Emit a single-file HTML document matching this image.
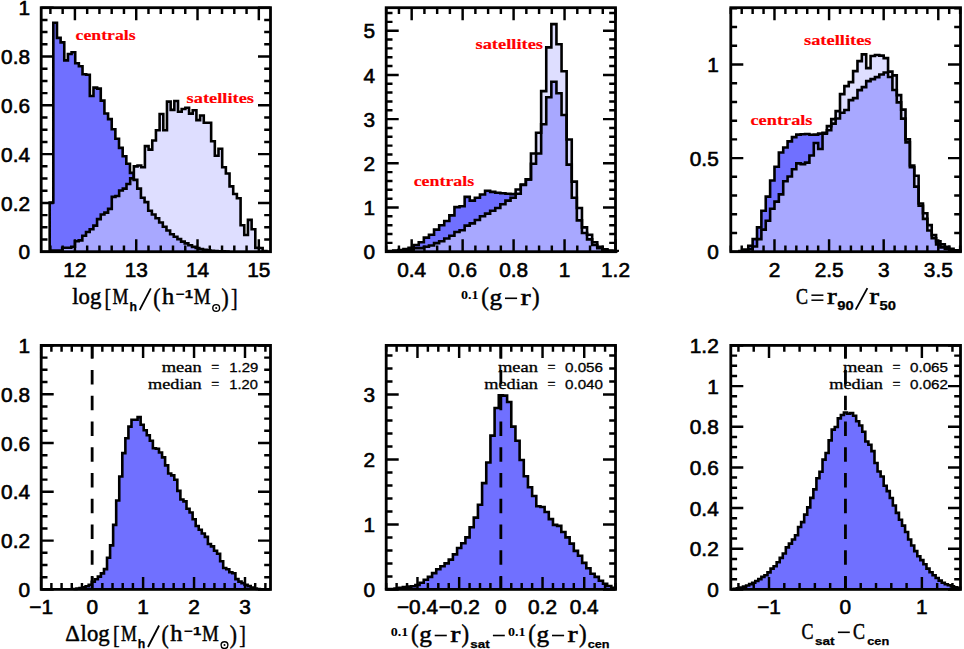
<!DOCTYPE html>
<html><head><meta charset="utf-8"><title>Chart</title>
<style>html,body{margin:0;padding:0;background:#fff}svg{display:block}</style>
</head><body>
<svg width="964" height="649" viewBox="0 0 964 649">
<rect width="964" height="649" fill="#fff"/>
<clipPath id="c1s"><path d="M52.00,251.70 L52.00,250.50 L62.20,250.50 L62.20,247.80 L71.30,247.80 L71.30,246.80 L74.98,246.80 L74.98,241.30 L78.66,241.30 L78.66,240.40 L82.34,240.40 L82.34,235.70 L86.02,235.70 L86.02,232.00 L89.70,232.00 L89.70,229.30 L93.38,229.30 L93.38,225.60 L97.06,225.60 L97.06,219.10 L100.74,219.10 L100.74,214.50 L104.42,214.50 L104.42,212.60 L108.10,212.60 L108.10,208.90 L111.78,208.90 L111.78,196.90 L115.46,196.90 L115.46,196.00 L119.14,196.00 L119.14,190.50 L122.82,190.50 L122.82,188.60 L126.50,188.60 L126.50,184.00 L130.18,184.00 L130.18,178.40 L133.86,178.40 L133.86,166.40 L137.54,166.40 L137.54,165.50 L141.22,165.50 L141.22,167.30 L144.90,167.30 L144.90,146.10 L148.58,146.10 L148.58,149.60 L152.26,149.60 L152.26,140.50 L155.94,140.50 L155.94,130.20 L159.62,130.20 L159.62,114.00 L163.30,114.00 L163.30,130.20 L166.98,130.20 L166.98,101.60 L170.66,101.60 L170.66,109.90 L174.34,109.90 L174.34,101.00 L178.02,101.00 L178.02,111.80 L181.70,111.80 L181.70,109.00 L185.38,109.00 L185.38,107.70 L189.06,107.70 L189.06,113.60 L192.74,113.60 L192.74,110.30 L196.42,110.30 L196.42,120.10 L200.10,120.10 L200.10,115.50 L203.78,115.50 L203.78,122.80 L207.46,122.80 L207.46,122.80 L211.14,122.80 L211.14,141.30 L214.82,141.30 L214.82,155.70 L218.50,155.70 L218.50,148.70 L222.18,148.70 L222.18,167.20 L225.86,167.20 L225.86,173.50 L229.54,173.50 L229.54,186.40 L233.22,186.40 L233.22,194.00 L236.90,194.00 L236.90,198.20 L240.58,198.20 L240.58,225.20 L244.26,225.20 L244.26,235.00 L247.94,235.00 L247.94,219.90 L251.62,219.90 L251.62,229.30 L255.30,229.30 L255.30,247.90 L258.98,247.90 L258.98,248.00 L262.66,248.00 L262.66,251.00 L266.34,251.00 L266.34,251.70Z"/></clipPath>
<path d="M52.00,251.70 L52.00,250.50 L62.20,250.50 L62.20,247.80 L71.30,247.80 L71.30,246.80 L74.98,246.80 L74.98,241.30 L78.66,241.30 L78.66,240.40 L82.34,240.40 L82.34,235.70 L86.02,235.70 L86.02,232.00 L89.70,232.00 L89.70,229.30 L93.38,229.30 L93.38,225.60 L97.06,225.60 L97.06,219.10 L100.74,219.10 L100.74,214.50 L104.42,214.50 L104.42,212.60 L108.10,212.60 L108.10,208.90 L111.78,208.90 L111.78,196.90 L115.46,196.90 L115.46,196.00 L119.14,196.00 L119.14,190.50 L122.82,190.50 L122.82,188.60 L126.50,188.60 L126.50,184.00 L130.18,184.00 L130.18,178.40 L133.86,178.40 L133.86,166.40 L137.54,166.40 L137.54,165.50 L141.22,165.50 L141.22,167.30 L144.90,167.30 L144.90,146.10 L148.58,146.10 L148.58,149.60 L152.26,149.60 L152.26,140.50 L155.94,140.50 L155.94,130.20 L159.62,130.20 L159.62,114.00 L163.30,114.00 L163.30,130.20 L166.98,130.20 L166.98,101.60 L170.66,101.60 L170.66,109.90 L174.34,109.90 L174.34,101.00 L178.02,101.00 L178.02,111.80 L181.70,111.80 L181.70,109.00 L185.38,109.00 L185.38,107.70 L189.06,107.70 L189.06,113.60 L192.74,113.60 L192.74,110.30 L196.42,110.30 L196.42,120.10 L200.10,120.10 L200.10,115.50 L203.78,115.50 L203.78,122.80 L207.46,122.80 L207.46,122.80 L211.14,122.80 L211.14,141.30 L214.82,141.30 L214.82,155.70 L218.50,155.70 L218.50,148.70 L222.18,148.70 L222.18,167.20 L225.86,167.20 L225.86,173.50 L229.54,173.50 L229.54,186.40 L233.22,186.40 L233.22,194.00 L236.90,194.00 L236.90,198.20 L240.58,198.20 L240.58,225.20 L244.26,225.20 L244.26,235.00 L247.94,235.00 L247.94,219.90 L251.62,219.90 L251.62,229.30 L255.30,229.30 L255.30,247.90 L258.98,247.90 L258.98,248.00 L262.66,248.00 L262.66,251.00 L266.34,251.00 L266.34,251.70Z" fill="#dedeff"/>
<path d="M49.67,251.70 L49.67,202.50 L53.32,202.50 L53.32,22.80 L56.97,22.80 L56.97,37.90 L60.62,37.90 L60.62,42.40 L64.27,42.40 L64.27,60.40 L67.92,60.40 L67.92,54.00 L71.57,54.00 L71.57,52.20 L75.22,52.20 L75.22,63.30 L78.87,63.30 L78.87,66.20 L82.52,66.20 L82.52,74.30 L86.17,74.30 L86.17,74.70 L89.82,74.70 L89.82,96.00 L93.47,96.00 L93.47,87.60 L97.12,87.60 L97.12,88.60 L100.77,88.60 L100.77,100.60 L104.42,100.60 L104.42,113.50 L108.07,113.50 L108.07,119.10 L111.72,119.10 L111.72,129.20 L115.37,129.20 L115.37,138.70 L119.02,138.70 L119.02,147.90 L122.67,147.90 L122.67,156.30 L126.32,156.30 L126.32,163.70 L129.97,163.70 L129.97,172.90 L133.62,172.90 L133.62,179.90 L137.27,179.90 L137.27,188.60 L140.92,188.60 L140.92,197.80 L144.57,197.80 L144.57,202.10 L148.22,202.10 L148.22,210.80 L151.87,210.80 L151.87,214.50 L155.52,214.50 L155.52,218.20 L159.17,218.20 L159.17,222.50 L162.82,222.50 L162.82,226.80 L166.47,226.80 L166.47,230.50 L170.12,230.50 L170.12,234.20 L173.77,234.20 L173.77,236.70 L177.42,236.70 L177.42,239.10 L181.07,239.10 L181.07,241.60 L184.72,241.60 L184.72,243.40 L188.37,243.40 L188.37,245.30 L192.02,245.30 L192.02,246.90 L195.67,246.90 L195.67,248.00 L199.32,248.00 L199.32,249.00 L202.97,249.00 L202.97,249.80 L206.62,249.80 L206.62,250.40 L210.27,250.40 L210.27,250.80 L213.92,250.80 L213.92,251.10 L217.57,251.10 L217.57,251.30 L221.22,251.30 L221.22,251.40 L224.87,251.40 L224.87,251.50 L228.52,251.50 L228.52,251.70Z" fill="#7070ff"/>
<path d="M49.67,251.70 L49.67,202.50 L53.32,202.50 L53.32,22.80 L56.97,22.80 L56.97,37.90 L60.62,37.90 L60.62,42.40 L64.27,42.40 L64.27,60.40 L67.92,60.40 L67.92,54.00 L71.57,54.00 L71.57,52.20 L75.22,52.20 L75.22,63.30 L78.87,63.30 L78.87,66.20 L82.52,66.20 L82.52,74.30 L86.17,74.30 L86.17,74.70 L89.82,74.70 L89.82,96.00 L93.47,96.00 L93.47,87.60 L97.12,87.60 L97.12,88.60 L100.77,88.60 L100.77,100.60 L104.42,100.60 L104.42,113.50 L108.07,113.50 L108.07,119.10 L111.72,119.10 L111.72,129.20 L115.37,129.20 L115.37,138.70 L119.02,138.70 L119.02,147.90 L122.67,147.90 L122.67,156.30 L126.32,156.30 L126.32,163.70 L129.97,163.70 L129.97,172.90 L133.62,172.90 L133.62,179.90 L137.27,179.90 L137.27,188.60 L140.92,188.60 L140.92,197.80 L144.57,197.80 L144.57,202.10 L148.22,202.10 L148.22,210.80 L151.87,210.80 L151.87,214.50 L155.52,214.50 L155.52,218.20 L159.17,218.20 L159.17,222.50 L162.82,222.50 L162.82,226.80 L166.47,226.80 L166.47,230.50 L170.12,230.50 L170.12,234.20 L173.77,234.20 L173.77,236.70 L177.42,236.70 L177.42,239.10 L181.07,239.10 L181.07,241.60 L184.72,241.60 L184.72,243.40 L188.37,243.40 L188.37,245.30 L192.02,245.30 L192.02,246.90 L195.67,246.90 L195.67,248.00 L199.32,248.00 L199.32,249.00 L202.97,249.00 L202.97,249.80 L206.62,249.80 L206.62,250.40 L210.27,250.40 L210.27,250.80 L213.92,250.80 L213.92,251.10 L217.57,251.10 L217.57,251.30 L221.22,251.30 L221.22,251.40 L224.87,251.40 L224.87,251.50 L228.52,251.50 L228.52,251.70Z" fill="#a8a8ff" clip-path="url(#c1s)"/>
<path d="M49.67,251.70 L49.67,202.50 L53.32,202.50 L53.32,22.80 L56.97,22.80 L56.97,37.90 L60.62,37.90 L60.62,42.40 L64.27,42.40 L64.27,60.40 L67.92,60.40 L67.92,54.00 L71.57,54.00 L71.57,52.20 L75.22,52.20 L75.22,63.30 L78.87,63.30 L78.87,66.20 L82.52,66.20 L82.52,74.30 L86.17,74.30 L86.17,74.70 L89.82,74.70 L89.82,96.00 L93.47,96.00 L93.47,87.60 L97.12,87.60 L97.12,88.60 L100.77,88.60 L100.77,100.60 L104.42,100.60 L104.42,113.50 L108.07,113.50 L108.07,119.10 L111.72,119.10 L111.72,129.20 L115.37,129.20 L115.37,138.70 L119.02,138.70 L119.02,147.90 L122.67,147.90 L122.67,156.30 L126.32,156.30 L126.32,163.70 L129.97,163.70 L129.97,172.90 L133.62,172.90 L133.62,179.90 L137.27,179.90 L137.27,188.60 L140.92,188.60 L140.92,197.80 L144.57,197.80 L144.57,202.10 L148.22,202.10 L148.22,210.80 L151.87,210.80 L151.87,214.50 L155.52,214.50 L155.52,218.20 L159.17,218.20 L159.17,222.50 L162.82,222.50 L162.82,226.80 L166.47,226.80 L166.47,230.50 L170.12,230.50 L170.12,234.20 L173.77,234.20 L173.77,236.70 L177.42,236.70 L177.42,239.10 L181.07,239.10 L181.07,241.60 L184.72,241.60 L184.72,243.40 L188.37,243.40 L188.37,245.30 L192.02,245.30 L192.02,246.90 L195.67,246.90 L195.67,248.00 L199.32,248.00 L199.32,249.00 L202.97,249.00 L202.97,249.80 L206.62,249.80 L206.62,250.40 L210.27,250.40 L210.27,250.80 L213.92,250.80 L213.92,251.10 L217.57,251.10 L217.57,251.30 L221.22,251.30 L221.22,251.40 L224.87,251.40 L224.87,251.50 L228.52,251.50 L228.52,251.70" fill="none" stroke="#000" stroke-width="2.6"/>
<path d="M52.00,251.70 L52.00,250.50 L62.20,250.50 L62.20,247.80 L71.30,247.80 L71.30,246.80 L74.98,246.80 L74.98,241.30 L78.66,241.30 L78.66,240.40 L82.34,240.40 L82.34,235.70 L86.02,235.70 L86.02,232.00 L89.70,232.00 L89.70,229.30 L93.38,229.30 L93.38,225.60 L97.06,225.60 L97.06,219.10 L100.74,219.10 L100.74,214.50 L104.42,214.50 L104.42,212.60 L108.10,212.60 L108.10,208.90 L111.78,208.90 L111.78,196.90 L115.46,196.90 L115.46,196.00 L119.14,196.00 L119.14,190.50 L122.82,190.50 L122.82,188.60 L126.50,188.60 L126.50,184.00 L130.18,184.00 L130.18,178.40 L133.86,178.40 L133.86,166.40 L137.54,166.40 L137.54,165.50 L141.22,165.50 L141.22,167.30 L144.90,167.30 L144.90,146.10 L148.58,146.10 L148.58,149.60 L152.26,149.60 L152.26,140.50 L155.94,140.50 L155.94,130.20 L159.62,130.20 L159.62,114.00 L163.30,114.00 L163.30,130.20 L166.98,130.20 L166.98,101.60 L170.66,101.60 L170.66,109.90 L174.34,109.90 L174.34,101.00 L178.02,101.00 L178.02,111.80 L181.70,111.80 L181.70,109.00 L185.38,109.00 L185.38,107.70 L189.06,107.70 L189.06,113.60 L192.74,113.60 L192.74,110.30 L196.42,110.30 L196.42,120.10 L200.10,120.10 L200.10,115.50 L203.78,115.50 L203.78,122.80 L207.46,122.80 L207.46,122.80 L211.14,122.80 L211.14,141.30 L214.82,141.30 L214.82,155.70 L218.50,155.70 L218.50,148.70 L222.18,148.70 L222.18,167.20 L225.86,167.20 L225.86,173.50 L229.54,173.50 L229.54,186.40 L233.22,186.40 L233.22,194.00 L236.90,194.00 L236.90,198.20 L240.58,198.20 L240.58,225.20 L244.26,225.20 L244.26,235.00 L247.94,235.00 L247.94,219.90 L251.62,219.90 L251.62,229.30 L255.30,229.30 L255.30,247.90 L258.98,247.90 L258.98,248.00 L262.66,248.00 L262.66,251.00 L266.34,251.00 L266.34,251.70" fill="none" stroke="#000" stroke-width="2.6"/>
<path d="M50.40,251.7 v-6.3 M50.40,7.7 v6.3 M62.66,251.7 v-6.3 M62.66,7.7 v6.3 M74.92,251.7 v-12.5 M74.92,7.7 v12.5 M87.18,251.7 v-6.3 M87.18,7.7 v6.3 M99.44,251.7 v-6.3 M99.44,7.7 v6.3 M111.70,251.7 v-6.3 M111.70,7.7 v6.3 M123.96,251.7 v-6.3 M123.96,7.7 v6.3 M136.22,251.7 v-12.5 M136.22,7.7 v12.5 M148.48,251.7 v-6.3 M148.48,7.7 v6.3 M160.74,251.7 v-6.3 M160.74,7.7 v6.3 M173.00,251.7 v-6.3 M173.00,7.7 v6.3 M185.26,251.7 v-6.3 M185.26,7.7 v6.3 M197.52,251.7 v-12.5 M197.52,7.7 v12.5 M209.78,251.7 v-6.3 M209.78,7.7 v6.3 M222.04,251.7 v-6.3 M222.04,7.7 v6.3 M234.30,251.7 v-6.3 M234.30,7.7 v6.3 M246.56,251.7 v-6.3 M246.56,7.7 v6.3 M258.82,251.7 v-12.5 M258.82,7.7 v12.5" stroke="#000" stroke-width="2.45" fill="none"/>
<path d="M41.2,251.70 h12.5 M270.5,251.70 h-12.5 M41.2,239.50 h6.3 M270.5,239.50 h-6.3 M41.2,227.30 h6.3 M270.5,227.30 h-6.3 M41.2,215.10 h6.3 M270.5,215.10 h-6.3 M41.2,202.90 h12.5 M270.5,202.90 h-12.5 M41.2,190.70 h6.3 M270.5,190.70 h-6.3 M41.2,178.50 h6.3 M270.5,178.50 h-6.3 M41.2,166.30 h6.3 M270.5,166.30 h-6.3 M41.2,154.10 h12.5 M270.5,154.10 h-12.5 M41.2,141.90 h6.3 M270.5,141.90 h-6.3 M41.2,129.70 h6.3 M270.5,129.70 h-6.3 M41.2,117.50 h6.3 M270.5,117.50 h-6.3 M41.2,105.30 h12.5 M270.5,105.30 h-12.5 M41.2,93.10 h6.3 M270.5,93.10 h-6.3 M41.2,80.90 h6.3 M270.5,80.90 h-6.3 M41.2,68.70 h6.3 M270.5,68.70 h-6.3 M41.2,56.50 h12.5 M270.5,56.50 h-12.5 M41.2,44.30 h6.3 M270.5,44.30 h-6.3 M41.2,32.10 h6.3 M270.5,32.10 h-6.3 M41.2,19.90 h6.3 M270.5,19.90 h-6.3 M41.2,7.70 h12.5 M270.5,7.70 h-12.5" stroke="#000" stroke-width="2.45" fill="none"/>
<rect x="41.2" y="7.7" width="229.3" height="244.0" fill="none" stroke="#000" stroke-width="2.8"/>
<g transform="translate(74.9,277.1) scale(1.04,1)"><text x="0" y="0" font-family="Liberation Sans" font-size="20" text-anchor="middle" fill="#000" stroke="#000" stroke-width="0.6">12</text></g>
<g transform="translate(136.2,277.1) scale(1.04,1)"><text x="0" y="0" font-family="Liberation Sans" font-size="20" text-anchor="middle" fill="#000" stroke="#000" stroke-width="0.6">13</text></g>
<g transform="translate(197.5,277.1) scale(1.04,1)"><text x="0" y="0" font-family="Liberation Sans" font-size="20" text-anchor="middle" fill="#000" stroke="#000" stroke-width="0.6">14</text></g>
<g transform="translate(258.8,277.1) scale(1.04,1)"><text x="0" y="0" font-family="Liberation Sans" font-size="20" text-anchor="middle" fill="#000" stroke="#000" stroke-width="0.6">15</text></g>
<g transform="translate(30.0,259.3) scale(1.04,1)"><text x="0" y="0" font-family="Liberation Sans" font-size="20" text-anchor="end" fill="#000" stroke="#000" stroke-width="0.6">0</text></g>
<g transform="translate(30.0,210.5) scale(1.04,1)"><text x="0" y="0" font-family="Liberation Sans" font-size="20" text-anchor="end" fill="#000" stroke="#000" stroke-width="0.6">0.2</text></g>
<g transform="translate(30.0,161.7) scale(1.04,1)"><text x="0" y="0" font-family="Liberation Sans" font-size="20" text-anchor="end" fill="#000" stroke="#000" stroke-width="0.6">0.4</text></g>
<g transform="translate(30.0,112.9) scale(1.04,1)"><text x="0" y="0" font-family="Liberation Sans" font-size="20" text-anchor="end" fill="#000" stroke="#000" stroke-width="0.6">0.6</text></g>
<g transform="translate(30.0,64.1) scale(1.04,1)"><text x="0" y="0" font-family="Liberation Sans" font-size="20" text-anchor="end" fill="#000" stroke="#000" stroke-width="0.6">0.8</text></g>
<g transform="translate(30.0,15.3) scale(1.04,1)"><text x="0" y="0" font-family="Liberation Sans" font-size="20" text-anchor="end" fill="#000" stroke="#000" stroke-width="0.6">1</text></g>
<clipPath id="c2s"><path d="M388.15,251.70 L388.15,251.20 L393.25,251.20 L393.25,251.00 L398.35,251.00 L398.35,250.80 L403.45,250.80 L403.45,250.50 L408.55,250.50 L408.55,250.30 L413.65,250.30 L413.65,248.10 L418.75,248.10 L418.75,248.10 L423.85,248.10 L423.85,246.80 L428.95,246.80 L428.95,245.50 L434.05,245.50 L434.05,243.10 L439.15,243.10 L439.15,241.30 L444.25,241.30 L444.25,238.50 L449.35,238.50 L449.35,235.70 L454.45,235.70 L454.45,232.00 L459.55,232.00 L459.55,230.20 L464.65,230.20 L464.65,225.60 L469.75,225.60 L469.75,223.40 L474.85,223.40 L474.85,220.00 L479.95,220.00 L479.95,216.30 L485.05,216.30 L485.05,213.60 L490.15,213.60 L490.15,210.80 L495.25,210.80 L495.25,208.00 L500.35,208.00 L500.35,204.30 L505.45,204.30 L505.45,200.60 L510.55,200.60 L510.55,197.80 L515.65,197.80 L515.65,189.50 L520.75,189.50 L520.75,184.50 L525.85,184.50 L525.85,179.40 L530.95,179.40 L530.95,153.50 L536.05,153.50 L536.05,132.70 L541.15,132.70 L541.15,91.10 L546.25,91.10 L546.25,47.40 L551.35,47.40 L551.35,24.10 L556.45,24.10 L556.45,44.30 L561.55,44.30 L561.55,71.30 L566.65,71.30 L566.65,139.50 L571.75,139.50 L571.75,181.60 L576.85,181.60 L576.85,208.00 L581.95,208.00 L581.95,227.40 L587.05,227.40 L587.05,234.80 L592.15,234.80 L592.15,242.20 L597.25,242.20 L597.25,246.80 L602.35,246.80 L602.35,249.20 L607.45,249.20 L607.45,250.50 L612.55,250.50 L612.55,251.00 L617.65,251.00 L617.65,251.70Z"/></clipPath>
<path d="M388.15,251.70 L388.15,251.20 L393.25,251.20 L393.25,251.00 L398.35,251.00 L398.35,250.80 L403.45,250.80 L403.45,250.50 L408.55,250.50 L408.55,250.30 L413.65,250.30 L413.65,248.10 L418.75,248.10 L418.75,248.10 L423.85,248.10 L423.85,246.80 L428.95,246.80 L428.95,245.50 L434.05,245.50 L434.05,243.10 L439.15,243.10 L439.15,241.30 L444.25,241.30 L444.25,238.50 L449.35,238.50 L449.35,235.70 L454.45,235.70 L454.45,232.00 L459.55,232.00 L459.55,230.20 L464.65,230.20 L464.65,225.60 L469.75,225.60 L469.75,223.40 L474.85,223.40 L474.85,220.00 L479.95,220.00 L479.95,216.30 L485.05,216.30 L485.05,213.60 L490.15,213.60 L490.15,210.80 L495.25,210.80 L495.25,208.00 L500.35,208.00 L500.35,204.30 L505.45,204.30 L505.45,200.60 L510.55,200.60 L510.55,197.80 L515.65,197.80 L515.65,189.50 L520.75,189.50 L520.75,184.50 L525.85,184.50 L525.85,179.40 L530.95,179.40 L530.95,153.50 L536.05,153.50 L536.05,132.70 L541.15,132.70 L541.15,91.10 L546.25,91.10 L546.25,47.40 L551.35,47.40 L551.35,24.10 L556.45,24.10 L556.45,44.30 L561.55,44.30 L561.55,71.30 L566.65,71.30 L566.65,139.50 L571.75,139.50 L571.75,181.60 L576.85,181.60 L576.85,208.00 L581.95,208.00 L581.95,227.40 L587.05,227.40 L587.05,234.80 L592.15,234.80 L592.15,242.20 L597.25,242.20 L597.25,246.80 L602.35,246.80 L602.35,249.20 L607.45,249.20 L607.45,250.50 L612.55,250.50 L612.55,251.00 L617.65,251.00 L617.65,251.70Z" fill="#dedeff"/>
<path d="M388.15,251.70 L388.15,251.00 L393.25,251.00 L393.25,250.50 L398.35,250.50 L398.35,250.00 L403.45,250.00 L403.45,249.00 L408.55,249.00 L408.55,247.80 L413.65,247.80 L413.65,245.00 L418.75,245.00 L418.75,242.20 L423.85,242.20 L423.85,237.60 L428.95,237.60 L428.95,234.80 L434.05,234.80 L434.05,229.60 L439.15,229.60 L439.15,225.20 L444.25,225.20 L444.25,221.00 L449.35,221.00 L449.35,215.40 L454.45,215.40 L454.45,207.10 L459.55,207.10 L459.55,206.20 L464.65,206.20 L464.65,196.90 L469.75,196.90 L469.75,200.60 L474.85,200.60 L474.85,197.80 L479.95,197.80 L479.95,194.50 L485.05,194.50 L485.05,190.80 L490.15,190.80 L490.15,191.90 L495.25,191.90 L495.25,192.70 L500.35,192.70 L500.35,193.20 L505.45,193.20 L505.45,193.80 L510.55,193.80 L510.55,194.10 L515.65,194.10 L515.65,193.80 L520.75,193.80 L520.75,185.00 L525.85,185.00 L525.85,179.40 L530.95,179.40 L530.95,163.70 L536.05,163.70 L536.05,153.50 L541.15,153.50 L541.15,124.30 L546.25,124.30 L546.25,97.30 L551.35,97.30 L551.35,81.70 L556.45,81.70 L556.45,93.20 L561.55,93.20 L561.55,115.00 L566.65,115.00 L566.65,164.60 L571.75,164.60 L571.75,197.80 L576.85,197.80 L576.85,220.40 L581.95,220.40 L581.95,233.00 L587.05,233.00 L587.05,239.40 L592.15,239.40 L592.15,245.00 L597.25,245.00 L597.25,248.10 L602.35,248.10 L602.35,250.00 L607.45,250.00 L607.45,251.00 L612.55,251.00 L612.55,251.30 L617.65,251.30 L617.65,251.70Z" fill="#7070ff"/>
<path d="M388.15,251.70 L388.15,251.00 L393.25,251.00 L393.25,250.50 L398.35,250.50 L398.35,250.00 L403.45,250.00 L403.45,249.00 L408.55,249.00 L408.55,247.80 L413.65,247.80 L413.65,245.00 L418.75,245.00 L418.75,242.20 L423.85,242.20 L423.85,237.60 L428.95,237.60 L428.95,234.80 L434.05,234.80 L434.05,229.60 L439.15,229.60 L439.15,225.20 L444.25,225.20 L444.25,221.00 L449.35,221.00 L449.35,215.40 L454.45,215.40 L454.45,207.10 L459.55,207.10 L459.55,206.20 L464.65,206.20 L464.65,196.90 L469.75,196.90 L469.75,200.60 L474.85,200.60 L474.85,197.80 L479.95,197.80 L479.95,194.50 L485.05,194.50 L485.05,190.80 L490.15,190.80 L490.15,191.90 L495.25,191.90 L495.25,192.70 L500.35,192.70 L500.35,193.20 L505.45,193.20 L505.45,193.80 L510.55,193.80 L510.55,194.10 L515.65,194.10 L515.65,193.80 L520.75,193.80 L520.75,185.00 L525.85,185.00 L525.85,179.40 L530.95,179.40 L530.95,163.70 L536.05,163.70 L536.05,153.50 L541.15,153.50 L541.15,124.30 L546.25,124.30 L546.25,97.30 L551.35,97.30 L551.35,81.70 L556.45,81.70 L556.45,93.20 L561.55,93.20 L561.55,115.00 L566.65,115.00 L566.65,164.60 L571.75,164.60 L571.75,197.80 L576.85,197.80 L576.85,220.40 L581.95,220.40 L581.95,233.00 L587.05,233.00 L587.05,239.40 L592.15,239.40 L592.15,245.00 L597.25,245.00 L597.25,248.10 L602.35,248.10 L602.35,250.00 L607.45,250.00 L607.45,251.00 L612.55,251.00 L612.55,251.30 L617.65,251.30 L617.65,251.70Z" fill="#a8a8ff" clip-path="url(#c2s)"/>
<path d="M388.15,251.70 L388.15,251.00 L393.25,251.00 L393.25,250.50 L398.35,250.50 L398.35,250.00 L403.45,250.00 L403.45,249.00 L408.55,249.00 L408.55,247.80 L413.65,247.80 L413.65,245.00 L418.75,245.00 L418.75,242.20 L423.85,242.20 L423.85,237.60 L428.95,237.60 L428.95,234.80 L434.05,234.80 L434.05,229.60 L439.15,229.60 L439.15,225.20 L444.25,225.20 L444.25,221.00 L449.35,221.00 L449.35,215.40 L454.45,215.40 L454.45,207.10 L459.55,207.10 L459.55,206.20 L464.65,206.20 L464.65,196.90 L469.75,196.90 L469.75,200.60 L474.85,200.60 L474.85,197.80 L479.95,197.80 L479.95,194.50 L485.05,194.50 L485.05,190.80 L490.15,190.80 L490.15,191.90 L495.25,191.90 L495.25,192.70 L500.35,192.70 L500.35,193.20 L505.45,193.20 L505.45,193.80 L510.55,193.80 L510.55,194.10 L515.65,194.10 L515.65,193.80 L520.75,193.80 L520.75,185.00 L525.85,185.00 L525.85,179.40 L530.95,179.40 L530.95,163.70 L536.05,163.70 L536.05,153.50 L541.15,153.50 L541.15,124.30 L546.25,124.30 L546.25,97.30 L551.35,97.30 L551.35,81.70 L556.45,81.70 L556.45,93.20 L561.55,93.20 L561.55,115.00 L566.65,115.00 L566.65,164.60 L571.75,164.60 L571.75,197.80 L576.85,197.80 L576.85,220.40 L581.95,220.40 L581.95,233.00 L587.05,233.00 L587.05,239.40 L592.15,239.40 L592.15,245.00 L597.25,245.00 L597.25,248.10 L602.35,248.10 L602.35,250.00 L607.45,250.00 L607.45,251.00 L612.55,251.00 L612.55,251.30 L617.65,251.30 L617.65,251.70" fill="none" stroke="#000" stroke-width="2.6"/>
<path d="M388.15,251.70 L388.15,251.20 L393.25,251.20 L393.25,251.00 L398.35,251.00 L398.35,250.80 L403.45,250.80 L403.45,250.50 L408.55,250.50 L408.55,250.30 L413.65,250.30 L413.65,248.10 L418.75,248.10 L418.75,248.10 L423.85,248.10 L423.85,246.80 L428.95,246.80 L428.95,245.50 L434.05,245.50 L434.05,243.10 L439.15,243.10 L439.15,241.30 L444.25,241.30 L444.25,238.50 L449.35,238.50 L449.35,235.70 L454.45,235.70 L454.45,232.00 L459.55,232.00 L459.55,230.20 L464.65,230.20 L464.65,225.60 L469.75,225.60 L469.75,223.40 L474.85,223.40 L474.85,220.00 L479.95,220.00 L479.95,216.30 L485.05,216.30 L485.05,213.60 L490.15,213.60 L490.15,210.80 L495.25,210.80 L495.25,208.00 L500.35,208.00 L500.35,204.30 L505.45,204.30 L505.45,200.60 L510.55,200.60 L510.55,197.80 L515.65,197.80 L515.65,189.50 L520.75,189.50 L520.75,184.50 L525.85,184.50 L525.85,179.40 L530.95,179.40 L530.95,153.50 L536.05,153.50 L536.05,132.70 L541.15,132.70 L541.15,91.10 L546.25,91.10 L546.25,47.40 L551.35,47.40 L551.35,24.10 L556.45,24.10 L556.45,44.30 L561.55,44.30 L561.55,71.30 L566.65,71.30 L566.65,139.50 L571.75,139.50 L571.75,181.60 L576.85,181.60 L576.85,208.00 L581.95,208.00 L581.95,227.40 L587.05,227.40 L587.05,234.80 L592.15,234.80 L592.15,242.20 L597.25,242.20 L597.25,246.80 L602.35,246.80 L602.35,249.20 L607.45,249.20 L607.45,250.50 L612.55,250.50 L612.55,251.00 L617.65,251.00 L617.65,251.70" fill="none" stroke="#000" stroke-width="2.6"/>
<path d="M386.20,251.7 v-6.3 M386.20,7.7 v6.3 M398.94,251.7 v-6.3 M398.94,7.7 v6.3 M411.68,251.7 v-12.5 M411.68,7.7 v12.5 M424.42,251.7 v-6.3 M424.42,7.7 v6.3 M437.16,251.7 v-6.3 M437.16,7.7 v6.3 M449.90,251.7 v-6.3 M449.90,7.7 v6.3 M462.64,251.7 v-12.5 M462.64,7.7 v12.5 M475.38,251.7 v-6.3 M475.38,7.7 v6.3 M488.12,251.7 v-6.3 M488.12,7.7 v6.3 M500.86,251.7 v-6.3 M500.86,7.7 v6.3 M513.60,251.7 v-12.5 M513.60,7.7 v12.5 M526.34,251.7 v-6.3 M526.34,7.7 v6.3 M539.08,251.7 v-6.3 M539.08,7.7 v6.3 M551.82,251.7 v-6.3 M551.82,7.7 v6.3 M564.56,251.7 v-12.5 M564.56,7.7 v12.5 M577.30,251.7 v-6.3 M577.30,7.7 v6.3 M590.04,251.7 v-6.3 M590.04,7.7 v6.3 M602.78,251.7 v-6.3 M602.78,7.7 v6.3 M615.52,251.7 v-12.5 M615.52,7.7 v12.5" stroke="#000" stroke-width="2.45" fill="none"/>
<path d="M386.2,251.70 h12.5 M615.5,251.70 h-12.5 M386.2,242.86 h6.3 M615.5,242.86 h-6.3 M386.2,234.02 h6.3 M615.5,234.02 h-6.3 M386.2,225.18 h6.3 M615.5,225.18 h-6.3 M386.2,216.34 h6.3 M615.5,216.34 h-6.3 M386.2,207.50 h12.5 M615.5,207.50 h-12.5 M386.2,198.66 h6.3 M615.5,198.66 h-6.3 M386.2,189.82 h6.3 M615.5,189.82 h-6.3 M386.2,180.98 h6.3 M615.5,180.98 h-6.3 M386.2,172.14 h6.3 M615.5,172.14 h-6.3 M386.2,163.30 h12.5 M615.5,163.30 h-12.5 M386.2,154.46 h6.3 M615.5,154.46 h-6.3 M386.2,145.62 h6.3 M615.5,145.62 h-6.3 M386.2,136.78 h6.3 M615.5,136.78 h-6.3 M386.2,127.94 h6.3 M615.5,127.94 h-6.3 M386.2,119.10 h12.5 M615.5,119.10 h-12.5 M386.2,110.26 h6.3 M615.5,110.26 h-6.3 M386.2,101.42 h6.3 M615.5,101.42 h-6.3 M386.2,92.58 h6.3 M615.5,92.58 h-6.3 M386.2,83.74 h6.3 M615.5,83.74 h-6.3 M386.2,74.90 h12.5 M615.5,74.90 h-12.5 M386.2,66.06 h6.3 M615.5,66.06 h-6.3 M386.2,57.22 h6.3 M615.5,57.22 h-6.3 M386.2,48.38 h6.3 M615.5,48.38 h-6.3 M386.2,39.54 h6.3 M615.5,39.54 h-6.3 M386.2,30.70 h12.5 M615.5,30.70 h-12.5 M386.2,21.86 h6.3 M615.5,21.86 h-6.3 M386.2,13.02 h6.3 M615.5,13.02 h-6.3" stroke="#000" stroke-width="2.45" fill="none"/>
<rect x="386.2" y="7.7" width="229.3" height="244.0" fill="none" stroke="#000" stroke-width="2.8"/>
<g transform="translate(411.7,277.1) scale(1.04,1)"><text x="0" y="0" font-family="Liberation Sans" font-size="20" text-anchor="middle" fill="#000" stroke="#000" stroke-width="0.6">0.4</text></g>
<g transform="translate(462.6,277.1) scale(1.04,1)"><text x="0" y="0" font-family="Liberation Sans" font-size="20" text-anchor="middle" fill="#000" stroke="#000" stroke-width="0.6">0.6</text></g>
<g transform="translate(513.6,277.1) scale(1.04,1)"><text x="0" y="0" font-family="Liberation Sans" font-size="20" text-anchor="middle" fill="#000" stroke="#000" stroke-width="0.6">0.8</text></g>
<g transform="translate(564.6,277.1) scale(1.04,1)"><text x="0" y="0" font-family="Liberation Sans" font-size="20" text-anchor="middle" fill="#000" stroke="#000" stroke-width="0.6">1</text></g>
<g transform="translate(615.5,277.1) scale(1.04,1)"><text x="0" y="0" font-family="Liberation Sans" font-size="20" text-anchor="middle" fill="#000" stroke="#000" stroke-width="0.6">1.2</text></g>
<g transform="translate(375.0,259.3) scale(1.04,1)"><text x="0" y="0" font-family="Liberation Sans" font-size="20" text-anchor="end" fill="#000" stroke="#000" stroke-width="0.6">0</text></g>
<g transform="translate(375.0,215.1) scale(1.04,1)"><text x="0" y="0" font-family="Liberation Sans" font-size="20" text-anchor="end" fill="#000" stroke="#000" stroke-width="0.6">1</text></g>
<g transform="translate(375.0,170.9) scale(1.04,1)"><text x="0" y="0" font-family="Liberation Sans" font-size="20" text-anchor="end" fill="#000" stroke="#000" stroke-width="0.6">2</text></g>
<g transform="translate(375.0,126.7) scale(1.04,1)"><text x="0" y="0" font-family="Liberation Sans" font-size="20" text-anchor="end" fill="#000" stroke="#000" stroke-width="0.6">3</text></g>
<g transform="translate(375.0,82.5) scale(1.04,1)"><text x="0" y="0" font-family="Liberation Sans" font-size="20" text-anchor="end" fill="#000" stroke="#000" stroke-width="0.6">4</text></g>
<g transform="translate(375.0,38.3) scale(1.04,1)"><text x="0" y="0" font-family="Liberation Sans" font-size="20" text-anchor="end" fill="#000" stroke="#000" stroke-width="0.6">5</text></g>
<clipPath id="c3s"><path d="M739.54,251.70 L739.54,251.30 L743.90,251.30 L743.90,250.80 L748.27,250.80 L748.27,249.20 L752.64,249.20 L752.64,246.50 L757.01,246.50 L757.01,239.10 L761.38,239.10 L761.38,229.60 L765.74,229.60 L765.74,220.70 L770.11,220.70 L770.11,208.80 L774.48,208.80 L774.48,201.60 L778.85,201.60 L778.85,194.40 L783.22,194.40 L783.22,181.30 L787.58,181.30 L787.58,176.50 L791.95,176.50 L791.95,169.30 L796.32,169.30 L796.32,163.40 L800.69,163.40 L800.69,164.10 L805.06,164.10 L805.06,162.60 L809.42,162.60 L809.42,155.50 L813.79,155.50 L813.79,143.00 L818.16,143.00 L818.16,149.00 L822.53,149.00 L822.53,133.80 L826.90,133.80 L826.90,126.10 L831.26,126.10 L831.26,119.10 L835.63,119.10 L835.63,111.10 L840.00,111.10 L840.00,94.10 L844.37,94.10 L844.37,86.10 L848.74,86.10 L848.74,82.10 L853.10,82.10 L853.10,71.10 L857.47,71.10 L857.47,61.10 L861.84,61.10 L861.84,54.40 L866.21,54.40 L866.21,68.10 L870.58,68.10 L870.58,56.00 L874.94,56.00 L874.94,55.00 L879.31,55.00 L879.31,55.60 L883.68,55.60 L883.68,58.10 L888.05,58.10 L888.05,71.60 L892.42,71.60 L892.42,75.40 L896.78,75.40 L896.78,95.10 L901.15,95.10 L901.15,109.60 L905.52,109.60 L905.52,139.40 L909.89,139.40 L909.89,165.50 L914.26,165.50 L914.26,175.80 L918.62,175.80 L918.62,203.50 L922.99,203.50 L922.99,213.20 L927.36,213.20 L927.36,225.10 L931.73,225.10 L931.73,235.10 L936.10,235.10 L936.10,241.30 L940.46,241.30 L940.46,244.40 L944.83,244.40 L944.83,246.70 L949.20,246.70 L949.20,248.70 L953.57,248.70 L953.57,250.20 L957.94,250.20 L957.94,251.00 L960.50,251.00 L960.50,251.70Z"/></clipPath>
<path d="M739.54,251.70 L739.54,251.30 L743.90,251.30 L743.90,250.80 L748.27,250.80 L748.27,249.20 L752.64,249.20 L752.64,246.50 L757.01,246.50 L757.01,239.10 L761.38,239.10 L761.38,229.60 L765.74,229.60 L765.74,220.70 L770.11,220.70 L770.11,208.80 L774.48,208.80 L774.48,201.60 L778.85,201.60 L778.85,194.40 L783.22,194.40 L783.22,181.30 L787.58,181.30 L787.58,176.50 L791.95,176.50 L791.95,169.30 L796.32,169.30 L796.32,163.40 L800.69,163.40 L800.69,164.10 L805.06,164.10 L805.06,162.60 L809.42,162.60 L809.42,155.50 L813.79,155.50 L813.79,143.00 L818.16,143.00 L818.16,149.00 L822.53,149.00 L822.53,133.80 L826.90,133.80 L826.90,126.10 L831.26,126.10 L831.26,119.10 L835.63,119.10 L835.63,111.10 L840.00,111.10 L840.00,94.10 L844.37,94.10 L844.37,86.10 L848.74,86.10 L848.74,82.10 L853.10,82.10 L853.10,71.10 L857.47,71.10 L857.47,61.10 L861.84,61.10 L861.84,54.40 L866.21,54.40 L866.21,68.10 L870.58,68.10 L870.58,56.00 L874.94,56.00 L874.94,55.00 L879.31,55.00 L879.31,55.60 L883.68,55.60 L883.68,58.10 L888.05,58.10 L888.05,71.60 L892.42,71.60 L892.42,75.40 L896.78,75.40 L896.78,95.10 L901.15,95.10 L901.15,109.60 L905.52,109.60 L905.52,139.40 L909.89,139.40 L909.89,165.50 L914.26,165.50 L914.26,175.80 L918.62,175.80 L918.62,203.50 L922.99,203.50 L922.99,213.20 L927.36,213.20 L927.36,225.10 L931.73,225.10 L931.73,235.10 L936.10,235.10 L936.10,241.30 L940.46,241.30 L940.46,244.40 L944.83,244.40 L944.83,246.70 L949.20,246.70 L949.20,248.70 L953.57,248.70 L953.57,250.20 L957.94,250.20 L957.94,251.00 L960.50,251.00 L960.50,251.70Z" fill="#dedeff"/>
<path d="M739.54,251.70 L739.54,251.00 L743.90,251.00 L743.90,249.60 L748.27,249.60 L748.27,245.90 L752.64,245.90 L752.64,239.10 L757.01,239.10 L757.01,227.40 L761.38,227.40 L761.38,210.80 L765.74,210.80 L765.74,196.60 L770.11,196.60 L770.11,180.50 L774.48,180.50 L774.48,166.70 L778.85,166.70 L778.85,152.50 L783.22,152.50 L783.22,147.50 L787.58,147.50 L787.58,141.40 L791.95,141.40 L791.95,137.10 L796.32,137.10 L796.32,134.60 L800.69,134.60 L800.69,134.30 L805.06,134.30 L805.06,134.00 L809.42,134.00 L809.42,134.80 L813.79,134.80 L813.79,134.60 L818.16,134.60 L818.16,133.60 L822.53,133.60 L822.53,132.70 L826.90,132.70 L826.90,130.30 L831.26,130.30 L831.26,123.60 L835.63,123.60 L835.63,118.50 L840.00,118.50 L840.00,112.80 L844.37,112.80 L844.37,110.00 L848.74,110.00 L848.74,100.10 L853.10,100.10 L853.10,98.10 L857.47,98.10 L857.47,90.10 L861.84,90.10 L861.84,87.10 L866.21,87.10 L866.21,81.10 L870.58,81.10 L870.58,79.10 L874.94,79.10 L874.94,77.10 L879.31,77.10 L879.31,74.50 L883.68,74.50 L883.68,72.50 L888.05,72.50 L888.05,77.00 L892.42,77.00 L892.42,90.00 L896.78,90.00 L896.78,102.40 L901.15,102.40 L901.15,118.60 L905.52,118.60 L905.52,142.40 L909.89,142.40 L909.89,167.30 L914.26,167.30 L914.26,186.60 L918.62,186.60 L918.62,205.80 L922.99,205.80 L922.99,218.90 L927.36,218.90 L927.36,230.50 L931.73,230.50 L931.73,238.20 L936.10,238.20 L936.10,244.40 L940.46,244.40 L940.46,247.40 L944.83,247.40 L944.83,249.00 L949.20,249.00 L949.20,250.50 L953.57,250.50 L953.57,251.00 L957.94,251.00 L957.94,251.30 L960.50,251.30 L960.50,251.70Z" fill="#7070ff"/>
<path d="M739.54,251.70 L739.54,251.00 L743.90,251.00 L743.90,249.60 L748.27,249.60 L748.27,245.90 L752.64,245.90 L752.64,239.10 L757.01,239.10 L757.01,227.40 L761.38,227.40 L761.38,210.80 L765.74,210.80 L765.74,196.60 L770.11,196.60 L770.11,180.50 L774.48,180.50 L774.48,166.70 L778.85,166.70 L778.85,152.50 L783.22,152.50 L783.22,147.50 L787.58,147.50 L787.58,141.40 L791.95,141.40 L791.95,137.10 L796.32,137.10 L796.32,134.60 L800.69,134.60 L800.69,134.30 L805.06,134.30 L805.06,134.00 L809.42,134.00 L809.42,134.80 L813.79,134.80 L813.79,134.60 L818.16,134.60 L818.16,133.60 L822.53,133.60 L822.53,132.70 L826.90,132.70 L826.90,130.30 L831.26,130.30 L831.26,123.60 L835.63,123.60 L835.63,118.50 L840.00,118.50 L840.00,112.80 L844.37,112.80 L844.37,110.00 L848.74,110.00 L848.74,100.10 L853.10,100.10 L853.10,98.10 L857.47,98.10 L857.47,90.10 L861.84,90.10 L861.84,87.10 L866.21,87.10 L866.21,81.10 L870.58,81.10 L870.58,79.10 L874.94,79.10 L874.94,77.10 L879.31,77.10 L879.31,74.50 L883.68,74.50 L883.68,72.50 L888.05,72.50 L888.05,77.00 L892.42,77.00 L892.42,90.00 L896.78,90.00 L896.78,102.40 L901.15,102.40 L901.15,118.60 L905.52,118.60 L905.52,142.40 L909.89,142.40 L909.89,167.30 L914.26,167.30 L914.26,186.60 L918.62,186.60 L918.62,205.80 L922.99,205.80 L922.99,218.90 L927.36,218.90 L927.36,230.50 L931.73,230.50 L931.73,238.20 L936.10,238.20 L936.10,244.40 L940.46,244.40 L940.46,247.40 L944.83,247.40 L944.83,249.00 L949.20,249.00 L949.20,250.50 L953.57,250.50 L953.57,251.00 L957.94,251.00 L957.94,251.30 L960.50,251.30 L960.50,251.70Z" fill="#a8a8ff" clip-path="url(#c3s)"/>
<path d="M739.54,251.70 L739.54,251.00 L743.90,251.00 L743.90,249.60 L748.27,249.60 L748.27,245.90 L752.64,245.90 L752.64,239.10 L757.01,239.10 L757.01,227.40 L761.38,227.40 L761.38,210.80 L765.74,210.80 L765.74,196.60 L770.11,196.60 L770.11,180.50 L774.48,180.50 L774.48,166.70 L778.85,166.70 L778.85,152.50 L783.22,152.50 L783.22,147.50 L787.58,147.50 L787.58,141.40 L791.95,141.40 L791.95,137.10 L796.32,137.10 L796.32,134.60 L800.69,134.60 L800.69,134.30 L805.06,134.30 L805.06,134.00 L809.42,134.00 L809.42,134.80 L813.79,134.80 L813.79,134.60 L818.16,134.60 L818.16,133.60 L822.53,133.60 L822.53,132.70 L826.90,132.70 L826.90,130.30 L831.26,130.30 L831.26,123.60 L835.63,123.60 L835.63,118.50 L840.00,118.50 L840.00,112.80 L844.37,112.80 L844.37,110.00 L848.74,110.00 L848.74,100.10 L853.10,100.10 L853.10,98.10 L857.47,98.10 L857.47,90.10 L861.84,90.10 L861.84,87.10 L866.21,87.10 L866.21,81.10 L870.58,81.10 L870.58,79.10 L874.94,79.10 L874.94,77.10 L879.31,77.10 L879.31,74.50 L883.68,74.50 L883.68,72.50 L888.05,72.50 L888.05,77.00 L892.42,77.00 L892.42,90.00 L896.78,90.00 L896.78,102.40 L901.15,102.40 L901.15,118.60 L905.52,118.60 L905.52,142.40 L909.89,142.40 L909.89,167.30 L914.26,167.30 L914.26,186.60 L918.62,186.60 L918.62,205.80 L922.99,205.80 L922.99,218.90 L927.36,218.90 L927.36,230.50 L931.73,230.50 L931.73,238.20 L936.10,238.20 L936.10,244.40 L940.46,244.40 L940.46,247.40 L944.83,247.40 L944.83,249.00 L949.20,249.00 L949.20,250.50 L953.57,250.50 L953.57,251.00 L957.94,251.00 L957.94,251.30 L960.50,251.30 L960.50,251.70" fill="none" stroke="#000" stroke-width="2.6"/>
<path d="M739.54,251.70 L739.54,251.30 L743.90,251.30 L743.90,250.80 L748.27,250.80 L748.27,249.20 L752.64,249.20 L752.64,246.50 L757.01,246.50 L757.01,239.10 L761.38,239.10 L761.38,229.60 L765.74,229.60 L765.74,220.70 L770.11,220.70 L770.11,208.80 L774.48,208.80 L774.48,201.60 L778.85,201.60 L778.85,194.40 L783.22,194.40 L783.22,181.30 L787.58,181.30 L787.58,176.50 L791.95,176.50 L791.95,169.30 L796.32,169.30 L796.32,163.40 L800.69,163.40 L800.69,164.10 L805.06,164.10 L805.06,162.60 L809.42,162.60 L809.42,155.50 L813.79,155.50 L813.79,143.00 L818.16,143.00 L818.16,149.00 L822.53,149.00 L822.53,133.80 L826.90,133.80 L826.90,126.10 L831.26,126.10 L831.26,119.10 L835.63,119.10 L835.63,111.10 L840.00,111.10 L840.00,94.10 L844.37,94.10 L844.37,86.10 L848.74,86.10 L848.74,82.10 L853.10,82.10 L853.10,71.10 L857.47,71.10 L857.47,61.10 L861.84,61.10 L861.84,54.40 L866.21,54.40 L866.21,68.10 L870.58,68.10 L870.58,56.00 L874.94,56.00 L874.94,55.00 L879.31,55.00 L879.31,55.60 L883.68,55.60 L883.68,58.10 L888.05,58.10 L888.05,71.60 L892.42,71.60 L892.42,75.40 L896.78,75.40 L896.78,95.10 L901.15,95.10 L901.15,109.60 L905.52,109.60 L905.52,139.40 L909.89,139.40 L909.89,165.50 L914.26,165.50 L914.26,175.80 L918.62,175.80 L918.62,203.50 L922.99,203.50 L922.99,213.20 L927.36,213.20 L927.36,225.10 L931.73,225.10 L931.73,235.10 L936.10,235.10 L936.10,241.30 L940.46,241.30 L940.46,244.40 L944.83,244.40 L944.83,246.70 L949.20,246.70 L949.20,248.70 L953.57,248.70 L953.57,250.20 L957.94,250.20 L957.94,251.00 L960.50,251.00 L960.50,251.70" fill="none" stroke="#000" stroke-width="2.6"/>
<path d="M730.80,251.7 v-6.3 M730.80,7.7 v6.3 M741.72,251.7 v-6.3 M741.72,7.7 v6.3 M752.64,251.7 v-6.3 M752.64,7.7 v6.3 M763.56,251.7 v-6.3 M763.56,7.7 v6.3 M774.48,251.7 v-12.5 M774.48,7.7 v12.5 M785.40,251.7 v-6.3 M785.40,7.7 v6.3 M796.32,251.7 v-6.3 M796.32,7.7 v6.3 M807.24,251.7 v-6.3 M807.24,7.7 v6.3 M818.16,251.7 v-6.3 M818.16,7.7 v6.3 M829.08,251.7 v-12.5 M829.08,7.7 v12.5 M840.00,251.7 v-6.3 M840.00,7.7 v6.3 M850.92,251.7 v-6.3 M850.92,7.7 v6.3 M861.84,251.7 v-6.3 M861.84,7.7 v6.3 M872.76,251.7 v-6.3 M872.76,7.7 v6.3 M883.68,251.7 v-12.5 M883.68,7.7 v12.5 M894.60,251.7 v-6.3 M894.60,7.7 v6.3 M905.52,251.7 v-6.3 M905.52,7.7 v6.3 M916.44,251.7 v-6.3 M916.44,7.7 v6.3 M927.36,251.7 v-6.3 M927.36,7.7 v6.3 M938.28,251.7 v-12.5 M938.28,7.7 v12.5 M949.20,251.7 v-6.3 M949.20,7.7 v6.3 M960.12,251.7 v-6.3 M960.12,7.7 v6.3" stroke="#000" stroke-width="2.45" fill="none"/>
<path d="M730.8,251.70 h12.5 M960.4999999999999,251.70 h-12.5 M730.8,232.98 h6.3 M960.4999999999999,232.98 h-6.3 M730.8,214.26 h6.3 M960.4999999999999,214.26 h-6.3 M730.8,195.54 h6.3 M960.4999999999999,195.54 h-6.3 M730.8,176.82 h6.3 M960.4999999999999,176.82 h-6.3 M730.8,158.10 h12.5 M960.4999999999999,158.10 h-12.5 M730.8,139.38 h6.3 M960.4999999999999,139.38 h-6.3 M730.8,120.66 h6.3 M960.4999999999999,120.66 h-6.3 M730.8,101.94 h6.3 M960.4999999999999,101.94 h-6.3 M730.8,83.22 h6.3 M960.4999999999999,83.22 h-6.3 M730.8,64.50 h12.5 M960.4999999999999,64.50 h-12.5 M730.8,45.78 h6.3 M960.4999999999999,45.78 h-6.3 M730.8,27.06 h6.3 M960.4999999999999,27.06 h-6.3 M730.8,8.34 h6.3 M960.4999999999999,8.34 h-6.3" stroke="#000" stroke-width="2.45" fill="none"/>
<rect x="730.8" y="7.7" width="229.69999999999993" height="244.0" fill="none" stroke="#000" stroke-width="2.8"/>
<g transform="translate(774.5,277.1) scale(1.04,1)"><text x="0" y="0" font-family="Liberation Sans" font-size="20" text-anchor="middle" fill="#000" stroke="#000" stroke-width="0.6">2</text></g>
<g transform="translate(829.1,277.1) scale(1.04,1)"><text x="0" y="0" font-family="Liberation Sans" font-size="20" text-anchor="middle" fill="#000" stroke="#000" stroke-width="0.6">2.5</text></g>
<g transform="translate(883.7,277.1) scale(1.04,1)"><text x="0" y="0" font-family="Liberation Sans" font-size="20" text-anchor="middle" fill="#000" stroke="#000" stroke-width="0.6">3</text></g>
<g transform="translate(938.3,277.1) scale(1.04,1)"><text x="0" y="0" font-family="Liberation Sans" font-size="20" text-anchor="middle" fill="#000" stroke="#000" stroke-width="0.6">3.5</text></g>
<g transform="translate(718.7,259.3) scale(1.04,1)"><text x="0" y="0" font-family="Liberation Sans" font-size="20" text-anchor="end" fill="#000" stroke="#000" stroke-width="0.6">0</text></g>
<g transform="translate(718.7,165.7) scale(1.04,1)"><text x="0" y="0" font-family="Liberation Sans" font-size="20" text-anchor="end" fill="#000" stroke="#000" stroke-width="0.6">0.5</text></g>
<g transform="translate(718.7,72.1) scale(1.04,1)"><text x="0" y="0" font-family="Liberation Sans" font-size="20" text-anchor="end" fill="#000" stroke="#000" stroke-width="0.6">1</text></g>
<path d="M73.40,589.40 L73.40,589.00 L76.45,589.00 L76.45,588.60 L79.51,588.60 L79.51,588.00 L82.57,588.00 L82.57,587.40 L85.62,587.40 L85.62,586.30 L88.68,586.30 L88.68,584.70 L91.74,584.70 L91.74,581.70 L94.79,581.70 L94.79,579.30 L97.85,579.30 L97.85,576.60 L100.91,576.60 L100.91,573.40 L103.97,573.40 L103.97,569.10 L107.02,569.10 L107.02,557.80 L110.08,557.80 L110.08,545.40 L113.14,545.40 L113.14,524.90 L116.19,524.90 L116.19,500.50 L119.25,500.50 L119.25,476.50 L122.31,476.50 L122.31,453.10 L125.36,453.10 L125.36,438.30 L128.42,438.30 L128.42,426.60 L131.48,426.60 L131.48,419.80 L134.53,419.80 L134.53,419.80 L137.59,419.80 L137.59,417.10 L140.65,417.10 L140.65,424.70 L143.71,424.70 L143.71,430.30 L146.76,430.30 L146.76,435.20 L149.82,435.20 L149.82,440.80 L152.88,440.80 L152.88,448.20 L155.93,448.20 L155.93,448.80 L158.99,448.80 L158.99,452.50 L162.05,452.50 L162.05,457.40 L165.10,457.40 L165.10,465.40 L168.16,465.40 L168.16,473.50 L171.22,473.50 L171.22,475.40 L174.28,475.40 L174.28,479.70 L177.33,479.70 L177.33,490.90 L180.39,490.90 L180.39,499.50 L183.45,499.50 L183.45,501.40 L186.50,501.40 L186.50,508.80 L189.56,508.80 L189.56,512.50 L192.62,512.50 L192.62,519.30 L195.68,519.30 L195.68,526.00 L198.73,526.00 L198.73,529.80 L201.79,529.80 L201.79,533.50 L204.85,533.50 L204.85,536.90 L207.90,536.90 L207.90,544.00 L210.96,544.00 L210.96,546.40 L214.02,546.40 L214.02,550.80 L217.07,550.80 L217.07,553.80 L220.13,553.80 L220.13,561.20 L223.19,561.20 L223.19,568.00 L226.25,568.00 L226.25,569.30 L229.30,569.30 L229.30,572.30 L232.36,572.30 L232.36,573.20 L235.42,573.20 L235.42,579.10 L238.47,579.10 L238.47,581.60 L241.53,581.60 L241.53,583.10 L244.59,583.10 L244.59,584.70 L247.64,584.70 L247.64,586.10 L250.70,586.10 L250.70,587.50 L253.76,587.50 L253.76,588.50 L256.81,588.50 L256.81,589.00 L259.87,589.00 L259.87,589.40Z" fill="#7070ff"/>
<path d="M73.40,589.40 L73.40,589.00 L76.45,589.00 L76.45,588.60 L79.51,588.60 L79.51,588.00 L82.57,588.00 L82.57,587.40 L85.62,587.40 L85.62,586.30 L88.68,586.30 L88.68,584.70 L91.74,584.70 L91.74,581.70 L94.79,581.70 L94.79,579.30 L97.85,579.30 L97.85,576.60 L100.91,576.60 L100.91,573.40 L103.97,573.40 L103.97,569.10 L107.02,569.10 L107.02,557.80 L110.08,557.80 L110.08,545.40 L113.14,545.40 L113.14,524.90 L116.19,524.90 L116.19,500.50 L119.25,500.50 L119.25,476.50 L122.31,476.50 L122.31,453.10 L125.36,453.10 L125.36,438.30 L128.42,438.30 L128.42,426.60 L131.48,426.60 L131.48,419.80 L134.53,419.80 L134.53,419.80 L137.59,419.80 L137.59,417.10 L140.65,417.10 L140.65,424.70 L143.71,424.70 L143.71,430.30 L146.76,430.30 L146.76,435.20 L149.82,435.20 L149.82,440.80 L152.88,440.80 L152.88,448.20 L155.93,448.20 L155.93,448.80 L158.99,448.80 L158.99,452.50 L162.05,452.50 L162.05,457.40 L165.10,457.40 L165.10,465.40 L168.16,465.40 L168.16,473.50 L171.22,473.50 L171.22,475.40 L174.28,475.40 L174.28,479.70 L177.33,479.70 L177.33,490.90 L180.39,490.90 L180.39,499.50 L183.45,499.50 L183.45,501.40 L186.50,501.40 L186.50,508.80 L189.56,508.80 L189.56,512.50 L192.62,512.50 L192.62,519.30 L195.68,519.30 L195.68,526.00 L198.73,526.00 L198.73,529.80 L201.79,529.80 L201.79,533.50 L204.85,533.50 L204.85,536.90 L207.90,536.90 L207.90,544.00 L210.96,544.00 L210.96,546.40 L214.02,546.40 L214.02,550.80 L217.07,550.80 L217.07,553.80 L220.13,553.80 L220.13,561.20 L223.19,561.20 L223.19,568.00 L226.25,568.00 L226.25,569.30 L229.30,569.30 L229.30,572.30 L232.36,572.30 L232.36,573.20 L235.42,573.20 L235.42,579.10 L238.47,579.10 L238.47,581.60 L241.53,581.60 L241.53,583.10 L244.59,583.10 L244.59,584.70 L247.64,584.70 L247.64,586.10 L250.70,586.10 L250.70,587.50 L253.76,587.50 L253.76,588.50 L256.81,588.50 L256.81,589.00 L259.87,589.00 L259.87,589.40" fill="none" stroke="#000" stroke-width="2.6"/>
<path d="M92.15,344.29999999999995 V589.4" stroke="#000" stroke-width="2.8" stroke-dasharray="14.4 11.35" fill="none"/>
<path d="M41.20,589.4 v-12.5 M41.20,345.4 v12.5 M51.39,589.4 v-6.3 M51.39,345.4 v6.3 M61.58,589.4 v-6.3 M61.58,345.4 v6.3 M71.77,589.4 v-6.3 M71.77,345.4 v6.3 M81.96,589.4 v-6.3 M81.96,345.4 v6.3 M92.15,589.4 v-12.5 M92.15,345.4 v12.5 M102.34,589.4 v-6.3 M102.34,345.4 v6.3 M112.53,589.4 v-6.3 M112.53,345.4 v6.3 M122.72,589.4 v-6.3 M122.72,345.4 v6.3 M132.91,589.4 v-6.3 M132.91,345.4 v6.3 M143.10,589.4 v-12.5 M143.10,345.4 v12.5 M153.29,589.4 v-6.3 M153.29,345.4 v6.3 M163.48,589.4 v-6.3 M163.48,345.4 v6.3 M173.67,589.4 v-6.3 M173.67,345.4 v6.3 M183.86,589.4 v-6.3 M183.86,345.4 v6.3 M194.05,589.4 v-12.5 M194.05,345.4 v12.5 M204.24,589.4 v-6.3 M204.24,345.4 v6.3 M214.43,589.4 v-6.3 M214.43,345.4 v6.3 M224.62,589.4 v-6.3 M224.62,345.4 v6.3 M234.81,589.4 v-6.3 M234.81,345.4 v6.3 M245.00,589.4 v-12.5 M245.00,345.4 v12.5 M255.19,589.4 v-6.3 M255.19,345.4 v6.3 M265.38,589.4 v-6.3 M265.38,345.4 v6.3" stroke="#000" stroke-width="2.45" fill="none"/>
<path d="M41.2,589.40 h12.5 M270.5,589.40 h-12.5 M41.2,577.20 h6.3 M270.5,577.20 h-6.3 M41.2,565.00 h6.3 M270.5,565.00 h-6.3 M41.2,552.80 h6.3 M270.5,552.80 h-6.3 M41.2,540.60 h12.5 M270.5,540.60 h-12.5 M41.2,528.40 h6.3 M270.5,528.40 h-6.3 M41.2,516.20 h6.3 M270.5,516.20 h-6.3 M41.2,504.00 h6.3 M270.5,504.00 h-6.3 M41.2,491.80 h12.5 M270.5,491.80 h-12.5 M41.2,479.60 h6.3 M270.5,479.60 h-6.3 M41.2,467.40 h6.3 M270.5,467.40 h-6.3 M41.2,455.20 h6.3 M270.5,455.20 h-6.3 M41.2,443.00 h12.5 M270.5,443.00 h-12.5 M41.2,430.80 h6.3 M270.5,430.80 h-6.3 M41.2,418.60 h6.3 M270.5,418.60 h-6.3 M41.2,406.40 h6.3 M270.5,406.40 h-6.3 M41.2,394.20 h12.5 M270.5,394.20 h-12.5 M41.2,382.00 h6.3 M270.5,382.00 h-6.3 M41.2,369.80 h6.3 M270.5,369.80 h-6.3 M41.2,357.60 h6.3 M270.5,357.60 h-6.3 M41.2,345.40 h12.5 M270.5,345.40 h-12.5" stroke="#000" stroke-width="2.45" fill="none"/>
<rect x="41.2" y="345.4" width="229.3" height="244.0" fill="none" stroke="#000" stroke-width="2.8"/>
<g transform="translate(41.2,614.0) scale(1.04,1)"><text x="0" y="0" font-family="Liberation Sans" font-size="20" text-anchor="middle" fill="#000" stroke="#000" stroke-width="0.6">−1</text></g>
<g transform="translate(92.2,614.0) scale(1.04,1)"><text x="0" y="0" font-family="Liberation Sans" font-size="20" text-anchor="middle" fill="#000" stroke="#000" stroke-width="0.6">0</text></g>
<g transform="translate(143.1,614.0) scale(1.04,1)"><text x="0" y="0" font-family="Liberation Sans" font-size="20" text-anchor="middle" fill="#000" stroke="#000" stroke-width="0.6">1</text></g>
<g transform="translate(194.1,614.0) scale(1.04,1)"><text x="0" y="0" font-family="Liberation Sans" font-size="20" text-anchor="middle" fill="#000" stroke="#000" stroke-width="0.6">2</text></g>
<g transform="translate(245.0,614.0) scale(1.04,1)"><text x="0" y="0" font-family="Liberation Sans" font-size="20" text-anchor="middle" fill="#000" stroke="#000" stroke-width="0.6">3</text></g>
<g transform="translate(30.0,597.0) scale(1.04,1)"><text x="0" y="0" font-family="Liberation Sans" font-size="20" text-anchor="end" fill="#000" stroke="#000" stroke-width="0.6">0</text></g>
<g transform="translate(30.0,548.2) scale(1.04,1)"><text x="0" y="0" font-family="Liberation Sans" font-size="20" text-anchor="end" fill="#000" stroke="#000" stroke-width="0.6">0.2</text></g>
<g transform="translate(30.0,499.4) scale(1.04,1)"><text x="0" y="0" font-family="Liberation Sans" font-size="20" text-anchor="end" fill="#000" stroke="#000" stroke-width="0.6">0.4</text></g>
<g transform="translate(30.0,450.6) scale(1.04,1)"><text x="0" y="0" font-family="Liberation Sans" font-size="20" text-anchor="end" fill="#000" stroke="#000" stroke-width="0.6">0.6</text></g>
<g transform="translate(30.0,401.8) scale(1.04,1)"><text x="0" y="0" font-family="Liberation Sans" font-size="20" text-anchor="end" fill="#000" stroke="#000" stroke-width="0.6">0.8</text></g>
<g transform="translate(30.0,353.0) scale(1.04,1)"><text x="0" y="0" font-family="Liberation Sans" font-size="20" text-anchor="end" fill="#000" stroke="#000" stroke-width="0.6">1</text></g>
<path d="M386.21,589.40 L386.21,589.00 L390.38,589.00 L390.38,589.00 L394.54,589.00 L394.54,588.50 L398.71,588.50 L398.71,587.90 L402.88,587.90 L402.88,587.10 L407.05,587.10 L407.05,586.60 L411.22,586.60 L411.22,586.20 L415.39,586.20 L415.39,585.00 L419.56,585.00 L419.56,582.70 L423.73,582.70 L423.73,579.80 L427.90,579.80 L427.90,576.90 L432.07,576.90 L432.07,573.10 L436.24,573.10 L436.24,569.20 L440.40,569.20 L440.40,566.30 L444.57,566.30 L444.57,563.40 L448.74,563.40 L448.74,559.60 L452.91,559.60 L452.91,554.40 L457.08,554.40 L457.08,548.00 L461.25,548.00 L461.25,543.20 L465.42,543.20 L465.42,537.40 L469.59,537.40 L469.59,527.20 L473.76,527.20 L473.76,517.60 L477.92,517.60 L477.92,504.70 L482.09,504.70 L482.09,483.10 L486.26,483.10 L486.26,462.50 L490.43,462.50 L490.43,435.60 L494.60,435.60 L494.60,408.00 L498.77,408.00 L498.77,395.30 L502.94,395.30 L502.94,395.60 L507.11,395.60 L507.11,402.00 L511.28,402.00 L511.28,426.60 L515.45,426.60 L515.45,440.70 L519.62,440.70 L519.62,460.00 L523.78,460.00 L523.78,476.30 L527.95,476.30 L527.95,487.30 L532.12,487.30 L532.12,496.00 L536.29,496.00 L536.29,506.20 L540.46,506.20 L540.46,507.00 L544.63,507.00 L544.63,512.00 L548.80,512.00 L548.80,519.10 L552.97,519.10 L552.97,524.90 L557.14,524.90 L557.14,525.90 L561.30,525.90 L561.30,532.00 L565.47,532.00 L565.47,537.40 L569.64,537.40 L569.64,543.60 L573.81,543.60 L573.81,550.90 L577.98,550.90 L577.98,555.70 L582.15,555.70 L582.15,562.90 L586.32,562.90 L586.32,568.30 L590.49,568.30 L590.49,573.70 L594.66,573.70 L594.66,576.90 L598.83,576.90 L598.83,580.80 L603.00,580.80 L603.00,583.70 L607.16,583.70 L607.16,586.00 L611.33,586.00 L611.33,587.90 L615.50,587.90 L615.50,589.40Z" fill="#7070ff"/>
<path d="M386.21,589.40 L386.21,589.00 L390.38,589.00 L390.38,589.00 L394.54,589.00 L394.54,588.50 L398.71,588.50 L398.71,587.90 L402.88,587.90 L402.88,587.10 L407.05,587.10 L407.05,586.60 L411.22,586.60 L411.22,586.20 L415.39,586.20 L415.39,585.00 L419.56,585.00 L419.56,582.70 L423.73,582.70 L423.73,579.80 L427.90,579.80 L427.90,576.90 L432.07,576.90 L432.07,573.10 L436.24,573.10 L436.24,569.20 L440.40,569.20 L440.40,566.30 L444.57,566.30 L444.57,563.40 L448.74,563.40 L448.74,559.60 L452.91,559.60 L452.91,554.40 L457.08,554.40 L457.08,548.00 L461.25,548.00 L461.25,543.20 L465.42,543.20 L465.42,537.40 L469.59,537.40 L469.59,527.20 L473.76,527.20 L473.76,517.60 L477.92,517.60 L477.92,504.70 L482.09,504.70 L482.09,483.10 L486.26,483.10 L486.26,462.50 L490.43,462.50 L490.43,435.60 L494.60,435.60 L494.60,408.00 L498.77,408.00 L498.77,395.30 L502.94,395.30 L502.94,395.60 L507.11,395.60 L507.11,402.00 L511.28,402.00 L511.28,426.60 L515.45,426.60 L515.45,440.70 L519.62,440.70 L519.62,460.00 L523.78,460.00 L523.78,476.30 L527.95,476.30 L527.95,487.30 L532.12,487.30 L532.12,496.00 L536.29,496.00 L536.29,506.20 L540.46,506.20 L540.46,507.00 L544.63,507.00 L544.63,512.00 L548.80,512.00 L548.80,519.10 L552.97,519.10 L552.97,524.90 L557.14,524.90 L557.14,525.90 L561.30,525.90 L561.30,532.00 L565.47,532.00 L565.47,537.40 L569.64,537.40 L569.64,543.60 L573.81,543.60 L573.81,550.90 L577.98,550.90 L577.98,555.70 L582.15,555.70 L582.15,562.90 L586.32,562.90 L586.32,568.30 L590.49,568.30 L590.49,573.70 L594.66,573.70 L594.66,576.90 L598.83,576.90 L598.83,580.80 L603.00,580.80 L603.00,583.70 L607.16,583.70 L607.16,586.00 L611.33,586.00 L611.33,587.90 L615.50,587.90 L615.50,589.40" fill="none" stroke="#000" stroke-width="2.6"/>
<path d="M500.85,344.29999999999995 V589.4" stroke="#000" stroke-width="2.8" stroke-dasharray="14.4 11.35" fill="none"/>
<path d="M386.20,589.4 v-6.3 M386.20,345.4 v6.3 M396.62,589.4 v-6.3 M396.62,345.4 v6.3 M407.05,589.4 v-6.3 M407.05,345.4 v6.3 M417.47,589.4 v-12.5 M417.47,345.4 v12.5 M427.89,589.4 v-6.3 M427.89,345.4 v6.3 M438.31,589.4 v-6.3 M438.31,345.4 v6.3 M448.74,589.4 v-6.3 M448.74,345.4 v6.3 M459.16,589.4 v-12.5 M459.16,345.4 v12.5 M469.58,589.4 v-6.3 M469.58,345.4 v6.3 M480.00,589.4 v-6.3 M480.00,345.4 v6.3 M490.42,589.4 v-6.3 M490.42,345.4 v6.3 M500.85,589.4 v-12.5 M500.85,345.4 v12.5 M511.27,589.4 v-6.3 M511.27,345.4 v6.3 M521.69,589.4 v-6.3 M521.69,345.4 v6.3 M532.12,589.4 v-6.3 M532.12,345.4 v6.3 M542.54,589.4 v-12.5 M542.54,345.4 v12.5 M552.96,589.4 v-6.3 M552.96,345.4 v6.3 M563.38,589.4 v-6.3 M563.38,345.4 v6.3 M573.81,589.4 v-6.3 M573.81,345.4 v6.3 M584.23,589.4 v-12.5 M584.23,345.4 v12.5 M594.65,589.4 v-6.3 M594.65,345.4 v6.3 M605.07,589.4 v-6.3 M605.07,345.4 v6.3 M615.50,589.4 v-6.3 M615.50,345.4 v6.3" stroke="#000" stroke-width="2.45" fill="none"/>
<path d="M386.2,589.40 h12.5 M615.5,589.40 h-12.5 M386.2,576.40 h6.3 M615.5,576.40 h-6.3 M386.2,563.40 h6.3 M615.5,563.40 h-6.3 M386.2,550.40 h6.3 M615.5,550.40 h-6.3 M386.2,537.40 h6.3 M615.5,537.40 h-6.3 M386.2,524.40 h12.5 M615.5,524.40 h-12.5 M386.2,511.40 h6.3 M615.5,511.40 h-6.3 M386.2,498.40 h6.3 M615.5,498.40 h-6.3 M386.2,485.40 h6.3 M615.5,485.40 h-6.3 M386.2,472.40 h6.3 M615.5,472.40 h-6.3 M386.2,459.40 h12.5 M615.5,459.40 h-12.5 M386.2,446.40 h6.3 M615.5,446.40 h-6.3 M386.2,433.40 h6.3 M615.5,433.40 h-6.3 M386.2,420.40 h6.3 M615.5,420.40 h-6.3 M386.2,407.40 h6.3 M615.5,407.40 h-6.3 M386.2,394.40 h12.5 M615.5,394.40 h-12.5 M386.2,381.40 h6.3 M615.5,381.40 h-6.3 M386.2,368.40 h6.3 M615.5,368.40 h-6.3 M386.2,355.40 h6.3 M615.5,355.40 h-6.3" stroke="#000" stroke-width="2.45" fill="none"/>
<rect x="386.2" y="345.4" width="229.3" height="244.0" fill="none" stroke="#000" stroke-width="2.8"/>
<g transform="translate(417.5,614.0) scale(1.04,1)"><text x="0" y="0" font-family="Liberation Sans" font-size="20" text-anchor="middle" fill="#000" stroke="#000" stroke-width="0.6">−0.4</text></g>
<g transform="translate(459.2,614.0) scale(1.04,1)"><text x="0" y="0" font-family="Liberation Sans" font-size="20" text-anchor="middle" fill="#000" stroke="#000" stroke-width="0.6">−0.2</text></g>
<g transform="translate(500.8,614.0) scale(1.04,1)"><text x="0" y="0" font-family="Liberation Sans" font-size="20" text-anchor="middle" fill="#000" stroke="#000" stroke-width="0.6">0</text></g>
<g transform="translate(542.5,614.0) scale(1.04,1)"><text x="0" y="0" font-family="Liberation Sans" font-size="20" text-anchor="middle" fill="#000" stroke="#000" stroke-width="0.6">0.2</text></g>
<g transform="translate(584.2,614.0) scale(1.04,1)"><text x="0" y="0" font-family="Liberation Sans" font-size="20" text-anchor="middle" fill="#000" stroke="#000" stroke-width="0.6">0.4</text></g>
<g transform="translate(375.0,597.0) scale(1.04,1)"><text x="0" y="0" font-family="Liberation Sans" font-size="20" text-anchor="end" fill="#000" stroke="#000" stroke-width="0.6">0</text></g>
<g transform="translate(375.0,532.0) scale(1.04,1)"><text x="0" y="0" font-family="Liberation Sans" font-size="20" text-anchor="end" fill="#000" stroke="#000" stroke-width="0.6">1</text></g>
<g transform="translate(375.0,467.0) scale(1.04,1)"><text x="0" y="0" font-family="Liberation Sans" font-size="20" text-anchor="end" fill="#000" stroke="#000" stroke-width="0.6">2</text></g>
<g transform="translate(375.0,402.0) scale(1.04,1)"><text x="0" y="0" font-family="Liberation Sans" font-size="20" text-anchor="end" fill="#000" stroke="#000" stroke-width="0.6">3</text></g>
<path d="M733.86,589.40 L733.86,588.92 L736.92,588.92 L736.92,588.31 L739.98,588.31 L739.98,587.55 L743.03,587.55 L743.03,586.65 L746.09,586.65 L746.09,585.45 L749.15,585.45 L749.15,584.13 L752.21,584.13 L752.21,582.81 L755.26,582.81 L755.26,581.05 L758.32,581.05 L758.32,579.09 L761.38,579.09 L761.38,576.85 L764.43,576.85 L764.43,575.32 L767.49,575.32 L767.49,572.42 L770.55,572.42 L770.55,568.60 L773.61,568.60 L773.61,566.21 L776.66,566.21 L776.66,562.31 L779.72,562.31 L779.72,557.92 L782.78,557.92 L782.78,553.47 L785.83,553.47 L785.83,547.33 L788.89,547.33 L788.89,543.63 L791.95,543.63 L791.95,539.56 L795.01,539.56 L795.01,535.20 L798.06,535.20 L798.06,526.94 L801.12,526.94 L801.12,522.13 L804.18,522.13 L804.18,514.60 L807.24,514.60 L807.24,507.37 L810.29,507.37 L810.29,497.86 L813.35,497.86 L813.35,489.35 L816.41,489.35 L816.41,478.26 L819.46,478.26 L819.46,471.76 L822.52,471.76 L822.52,459.65 L825.58,459.65 L825.58,452.99 L828.64,452.99 L828.64,440.35 L831.69,440.35 L831.69,429.67 L834.75,429.67 L834.75,426.96 L837.81,426.96 L837.81,418.42 L840.86,418.42 L840.86,415.02 L843.92,415.02 L843.92,412.53 L846.98,412.53 L846.98,413.70 L850.04,413.70 L850.04,412.98 L853.09,412.98 L853.09,415.79 L856.15,415.79 L856.15,421.21 L859.21,421.21 L859.21,425.53 L862.26,425.53 L862.26,431.82 L865.32,431.82 L865.32,441.53 L868.38,441.53 L868.38,444.78 L871.44,444.78 L871.44,451.14 L874.49,451.14 L874.49,462.95 L877.55,462.95 L877.55,471.47 L880.61,471.47 L880.61,476.45 L883.67,476.45 L883.67,485.69 L886.72,485.69 L886.72,491.14 L889.78,491.14 L889.78,498.02 L892.84,498.02 L892.84,505.53 L895.89,505.53 L895.89,512.91 L898.95,512.91 L898.95,519.74 L902.01,519.74 L902.01,525.58 L905.07,525.58 L905.07,532.05 L908.12,532.05 L908.12,539.55 L911.18,539.55 L911.18,545.43 L914.24,545.43 L914.24,551.09 L917.29,551.09 L917.29,556.19 L920.35,556.19 L920.35,560.17 L923.41,560.17 L923.41,564.22 L926.47,564.22 L926.47,568.58 L929.52,568.58 L929.52,572.25 L932.58,572.25 L932.58,575.19 L935.64,575.19 L935.64,577.99 L938.69,577.99 L938.69,580.63 L941.75,580.63 L941.75,582.73 L944.81,582.73 L944.81,584.27 L947.87,584.27 L947.87,585.27 L950.92,585.27 L950.92,586.41 L953.98,586.41 L953.98,587.22 L957.04,587.22 L957.04,587.83 L960.10,587.83 L960.10,589.40Z" fill="#7070ff"/>
<path d="M733.86,589.40 L733.86,588.92 L736.92,588.92 L736.92,588.31 L739.98,588.31 L739.98,587.55 L743.03,587.55 L743.03,586.65 L746.09,586.65 L746.09,585.45 L749.15,585.45 L749.15,584.13 L752.21,584.13 L752.21,582.81 L755.26,582.81 L755.26,581.05 L758.32,581.05 L758.32,579.09 L761.38,579.09 L761.38,576.85 L764.43,576.85 L764.43,575.32 L767.49,575.32 L767.49,572.42 L770.55,572.42 L770.55,568.60 L773.61,568.60 L773.61,566.21 L776.66,566.21 L776.66,562.31 L779.72,562.31 L779.72,557.92 L782.78,557.92 L782.78,553.47 L785.83,553.47 L785.83,547.33 L788.89,547.33 L788.89,543.63 L791.95,543.63 L791.95,539.56 L795.01,539.56 L795.01,535.20 L798.06,535.20 L798.06,526.94 L801.12,526.94 L801.12,522.13 L804.18,522.13 L804.18,514.60 L807.24,514.60 L807.24,507.37 L810.29,507.37 L810.29,497.86 L813.35,497.86 L813.35,489.35 L816.41,489.35 L816.41,478.26 L819.46,478.26 L819.46,471.76 L822.52,471.76 L822.52,459.65 L825.58,459.65 L825.58,452.99 L828.64,452.99 L828.64,440.35 L831.69,440.35 L831.69,429.67 L834.75,429.67 L834.75,426.96 L837.81,426.96 L837.81,418.42 L840.86,418.42 L840.86,415.02 L843.92,415.02 L843.92,412.53 L846.98,412.53 L846.98,413.70 L850.04,413.70 L850.04,412.98 L853.09,412.98 L853.09,415.79 L856.15,415.79 L856.15,421.21 L859.21,421.21 L859.21,425.53 L862.26,425.53 L862.26,431.82 L865.32,431.82 L865.32,441.53 L868.38,441.53 L868.38,444.78 L871.44,444.78 L871.44,451.14 L874.49,451.14 L874.49,462.95 L877.55,462.95 L877.55,471.47 L880.61,471.47 L880.61,476.45 L883.67,476.45 L883.67,485.69 L886.72,485.69 L886.72,491.14 L889.78,491.14 L889.78,498.02 L892.84,498.02 L892.84,505.53 L895.89,505.53 L895.89,512.91 L898.95,512.91 L898.95,519.74 L902.01,519.74 L902.01,525.58 L905.07,525.58 L905.07,532.05 L908.12,532.05 L908.12,539.55 L911.18,539.55 L911.18,545.43 L914.24,545.43 L914.24,551.09 L917.29,551.09 L917.29,556.19 L920.35,556.19 L920.35,560.17 L923.41,560.17 L923.41,564.22 L926.47,564.22 L926.47,568.58 L929.52,568.58 L929.52,572.25 L932.58,572.25 L932.58,575.19 L935.64,575.19 L935.64,577.99 L938.69,577.99 L938.69,580.63 L941.75,580.63 L941.75,582.73 L944.81,582.73 L944.81,584.27 L947.87,584.27 L947.87,585.27 L950.92,585.27 L950.92,586.41 L953.98,586.41 L953.98,587.22 L957.04,587.22 L957.04,587.83 L960.10,587.83 L960.10,589.40" fill="none" stroke="#000" stroke-width="2.6"/>
<path d="M845.44,344.29999999999995 V589.4" stroke="#000" stroke-width="2.8" stroke-dasharray="14.4 11.35" fill="none"/>
<path d="M738.44,589.4 v-6.3 M738.44,345.4 v6.3 M753.73,589.4 v-6.3 M753.73,345.4 v6.3 M769.01,589.4 v-12.5 M769.01,345.4 v12.5 M784.30,589.4 v-6.3 M784.30,345.4 v6.3 M799.59,589.4 v-6.3 M799.59,345.4 v6.3 M814.87,589.4 v-6.3 M814.87,345.4 v6.3 M830.16,589.4 v-6.3 M830.16,345.4 v6.3 M845.44,589.4 v-12.5 M845.44,345.4 v12.5 M860.73,589.4 v-6.3 M860.73,345.4 v6.3 M876.02,589.4 v-6.3 M876.02,345.4 v6.3 M891.30,589.4 v-6.3 M891.30,345.4 v6.3 M906.59,589.4 v-6.3 M906.59,345.4 v6.3 M921.88,589.4 v-12.5 M921.88,345.4 v12.5 M937.16,589.4 v-6.3 M937.16,345.4 v6.3 M952.45,589.4 v-6.3 M952.45,345.4 v6.3" stroke="#000" stroke-width="2.45" fill="none"/>
<path d="M730.8,589.40 h12.5 M960.4999999999999,589.40 h-12.5 M730.8,579.24 h6.3 M960.4999999999999,579.24 h-6.3 M730.8,569.07 h6.3 M960.4999999999999,569.07 h-6.3 M730.8,558.90 h6.3 M960.4999999999999,558.90 h-6.3 M730.8,548.74 h12.5 M960.4999999999999,548.74 h-12.5 M730.8,538.57 h6.3 M960.4999999999999,538.57 h-6.3 M730.8,528.41 h6.3 M960.4999999999999,528.41 h-6.3 M730.8,518.25 h6.3 M960.4999999999999,518.25 h-6.3 M730.8,508.08 h12.5 M960.4999999999999,508.08 h-12.5 M730.8,497.91 h6.3 M960.4999999999999,497.91 h-6.3 M730.8,487.75 h6.3 M960.4999999999999,487.75 h-6.3 M730.8,477.58 h6.3 M960.4999999999999,477.58 h-6.3 M730.8,467.42 h12.5 M960.4999999999999,467.42 h-12.5 M730.8,457.25 h6.3 M960.4999999999999,457.25 h-6.3 M730.8,447.09 h6.3 M960.4999999999999,447.09 h-6.3 M730.8,436.92 h6.3 M960.4999999999999,436.92 h-6.3 M730.8,426.76 h12.5 M960.4999999999999,426.76 h-12.5 M730.8,416.59 h6.3 M960.4999999999999,416.59 h-6.3 M730.8,406.43 h6.3 M960.4999999999999,406.43 h-6.3 M730.8,396.26 h6.3 M960.4999999999999,396.26 h-6.3 M730.8,386.10 h12.5 M960.4999999999999,386.10 h-12.5 M730.8,375.93 h6.3 M960.4999999999999,375.93 h-6.3 M730.8,365.77 h6.3 M960.4999999999999,365.77 h-6.3 M730.8,355.60 h6.3 M960.4999999999999,355.60 h-6.3 M730.8,345.44 h12.5 M960.4999999999999,345.44 h-12.5" stroke="#000" stroke-width="2.45" fill="none"/>
<rect x="730.8" y="345.4" width="229.69999999999993" height="244.0" fill="none" stroke="#000" stroke-width="2.8"/>
<g transform="translate(769.0,614.0) scale(1.04,1)"><text x="0" y="0" font-family="Liberation Sans" font-size="20" text-anchor="middle" fill="#000" stroke="#000" stroke-width="0.6">−1</text></g>
<g transform="translate(845.4,614.0) scale(1.04,1)"><text x="0" y="0" font-family="Liberation Sans" font-size="20" text-anchor="middle" fill="#000" stroke="#000" stroke-width="0.6">0</text></g>
<g transform="translate(921.9,614.0) scale(1.04,1)"><text x="0" y="0" font-family="Liberation Sans" font-size="20" text-anchor="middle" fill="#000" stroke="#000" stroke-width="0.6">1</text></g>
<g transform="translate(718.7,597.0) scale(1.04,1)"><text x="0" y="0" font-family="Liberation Sans" font-size="20" text-anchor="end" fill="#000" stroke="#000" stroke-width="0.6">0</text></g>
<g transform="translate(718.7,556.3) scale(1.04,1)"><text x="0" y="0" font-family="Liberation Sans" font-size="20" text-anchor="end" fill="#000" stroke="#000" stroke-width="0.6">0.2</text></g>
<g transform="translate(718.7,515.7) scale(1.04,1)"><text x="0" y="0" font-family="Liberation Sans" font-size="20" text-anchor="end" fill="#000" stroke="#000" stroke-width="0.6">0.4</text></g>
<g transform="translate(718.7,475.0) scale(1.04,1)"><text x="0" y="0" font-family="Liberation Sans" font-size="20" text-anchor="end" fill="#000" stroke="#000" stroke-width="0.6">0.6</text></g>
<g transform="translate(718.7,434.4) scale(1.04,1)"><text x="0" y="0" font-family="Liberation Sans" font-size="20" text-anchor="end" fill="#000" stroke="#000" stroke-width="0.6">0.8</text></g>
<g transform="translate(718.7,393.7) scale(1.04,1)"><text x="0" y="0" font-family="Liberation Sans" font-size="20" text-anchor="end" fill="#000" stroke="#000" stroke-width="0.6">1</text></g>
<g transform="translate(718.7,353.0) scale(1.04,1)"><text x="0" y="0" font-family="Liberation Sans" font-size="20" text-anchor="end" fill="#000" stroke="#000" stroke-width="0.6">1.2</text></g>
<text x="75.6" y="40.3" font-family="Liberation Serif" font-size="14.3" font-weight="bold" text-anchor="start" fill="#ff0000" textLength="60" lengthAdjust="spacingAndGlyphs" stroke="#ff0000" stroke-width="0.15">centrals</text>
<text x="186.6" y="103.4" font-family="Liberation Serif" font-size="14.3" font-weight="bold" text-anchor="start" fill="#ff0000" textLength="67.4" lengthAdjust="spacingAndGlyphs" stroke="#ff0000" stroke-width="0.15">satellites</text>
<text x="413.7" y="185.8" font-family="Liberation Serif" font-size="14.3" font-weight="bold" text-anchor="start" fill="#ff0000" textLength="60.5" lengthAdjust="spacingAndGlyphs" stroke="#ff0000" stroke-width="0.15">centrals</text>
<text x="475.5" y="48.5" font-family="Liberation Serif" font-size="14.3" font-weight="bold" text-anchor="start" fill="#ff0000" textLength="67.5" lengthAdjust="spacingAndGlyphs" stroke="#ff0000" stroke-width="0.15">satellites</text>
<text x="750.5" y="125" font-family="Liberation Serif" font-size="14.3" font-weight="bold" text-anchor="start" fill="#ff0000" textLength="62" lengthAdjust="spacingAndGlyphs" stroke="#ff0000" stroke-width="0.15">centrals</text>
<text x="804" y="45" font-family="Liberation Serif" font-size="14.3" font-weight="bold" text-anchor="start" fill="#ff0000" textLength="67.5" lengthAdjust="spacingAndGlyphs" stroke="#ff0000" stroke-width="0.15">satellites</text>
<text x="201.7" y="372.1" font-family="Liberation Serif" font-size="14.5" font-weight="normal" text-anchor="end" fill="#000" textLength="40" lengthAdjust="spacingAndGlyphs" stroke="#000" stroke-width="0.3">mean</text>
<text x="211.2" y="372.1" font-family="Liberation Serif" font-size="14.5" font-weight="normal" text-anchor="start" fill="#000" textLength="8" lengthAdjust="spacingAndGlyphs" stroke="#000" stroke-width="0.3">=</text>
<text x="229.3" y="372.1" font-family="Liberation Sans" font-size="13.4" font-weight="normal" text-anchor="start" fill="#000" textLength="29" lengthAdjust="spacingAndGlyphs" stroke="#000" stroke-width="0.3">1.29</text>
<text x="201.7" y="389.2" font-family="Liberation Serif" font-size="14.5" font-weight="normal" text-anchor="end" fill="#000" textLength="53.7" lengthAdjust="spacingAndGlyphs" stroke="#000" stroke-width="0.3">median</text>
<text x="211.2" y="389.2" font-family="Liberation Serif" font-size="14.5" font-weight="normal" text-anchor="start" fill="#000" textLength="8" lengthAdjust="spacingAndGlyphs" stroke="#000" stroke-width="0.3">=</text>
<text x="229.3" y="389.2" font-family="Liberation Sans" font-size="13.4" font-weight="normal" text-anchor="start" fill="#000" textLength="28.5" lengthAdjust="spacingAndGlyphs" stroke="#000" stroke-width="0.3">1.20</text>
<text x="538" y="372.1" font-family="Liberation Serif" font-size="14.5" font-weight="normal" text-anchor="end" fill="#000" textLength="40" lengthAdjust="spacingAndGlyphs" stroke="#000" stroke-width="0.3">mean</text>
<text x="547.5" y="372.1" font-family="Liberation Serif" font-size="14.5" font-weight="normal" text-anchor="start" fill="#000" textLength="8" lengthAdjust="spacingAndGlyphs" stroke="#000" stroke-width="0.3">=</text>
<text x="565" y="372.1" font-family="Liberation Sans" font-size="13.4" font-weight="normal" text-anchor="start" fill="#000" textLength="38" lengthAdjust="spacingAndGlyphs" stroke="#000" stroke-width="0.3">0.056</text>
<text x="538" y="389.2" font-family="Liberation Serif" font-size="14.5" font-weight="normal" text-anchor="end" fill="#000" textLength="53.7" lengthAdjust="spacingAndGlyphs" stroke="#000" stroke-width="0.3">median</text>
<text x="547.5" y="389.2" font-family="Liberation Serif" font-size="14.5" font-weight="normal" text-anchor="start" fill="#000" textLength="8" lengthAdjust="spacingAndGlyphs" stroke="#000" stroke-width="0.3">=</text>
<text x="565" y="389.2" font-family="Liberation Sans" font-size="13.4" font-weight="normal" text-anchor="start" fill="#000" textLength="38" lengthAdjust="spacingAndGlyphs" stroke="#000" stroke-width="0.3">0.040</text>
<text x="883" y="372.1" font-family="Liberation Serif" font-size="14.5" font-weight="normal" text-anchor="end" fill="#000" textLength="40" lengthAdjust="spacingAndGlyphs" stroke="#000" stroke-width="0.3">mean</text>
<text x="892.5" y="372.1" font-family="Liberation Serif" font-size="14.5" font-weight="normal" text-anchor="start" fill="#000" textLength="8" lengthAdjust="spacingAndGlyphs" stroke="#000" stroke-width="0.3">=</text>
<text x="910" y="372.1" font-family="Liberation Sans" font-size="13.4" font-weight="normal" text-anchor="start" fill="#000" textLength="38" lengthAdjust="spacingAndGlyphs" stroke="#000" stroke-width="0.3">0.065</text>
<text x="883" y="389.2" font-family="Liberation Serif" font-size="14.5" font-weight="normal" text-anchor="end" fill="#000" textLength="53.7" lengthAdjust="spacingAndGlyphs" stroke="#000" stroke-width="0.3">median</text>
<text x="892.5" y="389.2" font-family="Liberation Serif" font-size="14.5" font-weight="normal" text-anchor="start" fill="#000" textLength="8" lengthAdjust="spacingAndGlyphs" stroke="#000" stroke-width="0.3">=</text>
<text x="910" y="389.2" font-family="Liberation Sans" font-size="13.4" font-weight="normal" text-anchor="start" fill="#000" textLength="38" lengthAdjust="spacingAndGlyphs" stroke="#000" stroke-width="0.3">0.062</text>
<text x="72.3" y="304.3" font-family="Liberation Serif" font-size="22.5" font-weight="normal" text-anchor="start" fill="#000" textLength="29" lengthAdjust="spacingAndGlyphs" stroke="#000" stroke-width="0.5">log</text>
<text x="104.6" y="305.90000000000003" font-family="Liberation Serif" font-size="26" font-weight="normal" text-anchor="start" fill="#000" textLength="6.6" lengthAdjust="spacingAndGlyphs" stroke="#000" stroke-width="0.5">[</text>
<text x="112.6" y="304.3" font-family="Liberation Serif" font-size="22.5" font-weight="normal" text-anchor="start" fill="#000" textLength="15.9" lengthAdjust="spacingAndGlyphs" stroke="#000" stroke-width="0.5">M</text>
<text x="129.4" y="310.8" font-family="Liberation Sans" font-size="12.5" font-weight="bold" text-anchor="start" fill="#000" textLength="7.5" lengthAdjust="spacingAndGlyphs" stroke="#000" stroke-width="0.25">h</text>
<path d="M139.7,309.9 L150.8,288.4" stroke="#000" stroke-width="1.8" fill="none"/>
<text x="153.2" y="305.6" font-family="Liberation Serif" font-size="25.5" font-weight="normal" text-anchor="start" fill="#000" textLength="7.2" lengthAdjust="spacingAndGlyphs" stroke="#000" stroke-width="0.5">(</text>
<text x="162" y="304.3" font-family="Liberation Serif" font-size="22.5" font-weight="normal" text-anchor="start" fill="#000" textLength="12.2" lengthAdjust="spacingAndGlyphs" stroke="#000" stroke-width="0.5">h</text>
<text x="176" y="298.3" font-family="Liberation Sans" font-size="11.5" font-weight="bold" text-anchor="start" fill="#000" textLength="17" lengthAdjust="spacingAndGlyphs" stroke="#000" stroke-width="0.25">−1</text>
<text x="193.8" y="304.3" font-family="Liberation Serif" font-size="22.5" font-weight="normal" text-anchor="start" fill="#000" textLength="16.8" lengthAdjust="spacingAndGlyphs" stroke="#000" stroke-width="0.5">M</text>
<circle cx="216.2" cy="308.0" r="3.4" fill="none" stroke="#000" stroke-width="1.4"/><circle cx="216.2" cy="308.0" r="1" fill="#000"/>
<text x="221.5" y="305.6" font-family="Liberation Serif" font-size="25.5" font-weight="normal" text-anchor="start" fill="#000" textLength="7.2" lengthAdjust="spacingAndGlyphs" stroke="#000" stroke-width="0.5">)</text>
<text x="230.9" y="305.90000000000003" font-family="Liberation Serif" font-size="26" font-weight="normal" text-anchor="start" fill="#000" textLength="6.6" lengthAdjust="spacingAndGlyphs" stroke="#000" stroke-width="0.5">]</text>
<text x="65.3" y="641.4" font-family="Liberation Serif" font-size="22.5" font-weight="normal" text-anchor="start" fill="#000" textLength="14.6" lengthAdjust="spacingAndGlyphs" stroke="#000" stroke-width="0.5">Δ</text>
<text x="80.6" y="641.4" font-family="Liberation Serif" font-size="22.5" font-weight="normal" text-anchor="start" fill="#000" textLength="29" lengthAdjust="spacingAndGlyphs" stroke="#000" stroke-width="0.5">log</text>
<text x="112.89999999999999" y="643.0" font-family="Liberation Serif" font-size="26" font-weight="normal" text-anchor="start" fill="#000" textLength="6.6" lengthAdjust="spacingAndGlyphs" stroke="#000" stroke-width="0.5">[</text>
<text x="120.89999999999999" y="641.4" font-family="Liberation Serif" font-size="22.5" font-weight="normal" text-anchor="start" fill="#000" textLength="15.9" lengthAdjust="spacingAndGlyphs" stroke="#000" stroke-width="0.5">M</text>
<text x="137.70000000000002" y="647.9" font-family="Liberation Sans" font-size="12.5" font-weight="bold" text-anchor="start" fill="#000" textLength="7.5" lengthAdjust="spacingAndGlyphs" stroke="#000" stroke-width="0.25">h</text>
<path d="M148.0,647.0 L159.1,625.5" stroke="#000" stroke-width="1.8" fill="none"/>
<text x="161.5" y="642.6999999999999" font-family="Liberation Serif" font-size="25.5" font-weight="normal" text-anchor="start" fill="#000" textLength="7.2" lengthAdjust="spacingAndGlyphs" stroke="#000" stroke-width="0.5">(</text>
<text x="170.3" y="641.4" font-family="Liberation Serif" font-size="22.5" font-weight="normal" text-anchor="start" fill="#000" textLength="12.2" lengthAdjust="spacingAndGlyphs" stroke="#000" stroke-width="0.5">h</text>
<text x="184.3" y="635.4" font-family="Liberation Sans" font-size="11.5" font-weight="bold" text-anchor="start" fill="#000" textLength="17" lengthAdjust="spacingAndGlyphs" stroke="#000" stroke-width="0.25">−1</text>
<text x="202.10000000000002" y="641.4" font-family="Liberation Serif" font-size="22.5" font-weight="normal" text-anchor="start" fill="#000" textLength="16.8" lengthAdjust="spacingAndGlyphs" stroke="#000" stroke-width="0.5">M</text>
<circle cx="224.5" cy="645.1" r="3.4" fill="none" stroke="#000" stroke-width="1.4"/><circle cx="224.5" cy="645.1" r="1" fill="#000"/>
<text x="229.8" y="642.6999999999999" font-family="Liberation Serif" font-size="25.5" font-weight="normal" text-anchor="start" fill="#000" textLength="7.2" lengthAdjust="spacingAndGlyphs" stroke="#000" stroke-width="0.5">)</text>
<text x="239.20000000000002" y="643.0" font-family="Liberation Serif" font-size="26" font-weight="normal" text-anchor="start" fill="#000" textLength="6.6" lengthAdjust="spacingAndGlyphs" stroke="#000" stroke-width="0.5">]</text>
<text x="461.0" y="298.6" font-family="Liberation Serif" font-size="13" font-weight="bold" text-anchor="start" fill="#000" textLength="17.6" lengthAdjust="spacingAndGlyphs">0.1</text>
<text x="481.29999999999995" y="304.8" font-family="Liberation Serif" font-size="25.8" font-weight="normal" text-anchor="start" fill="#000" textLength="7.6" lengthAdjust="spacingAndGlyphs" stroke="#000" stroke-width="0.5">(</text>
<text x="489.59999999999997" y="304.5" font-family="Liberation Serif" font-size="23.5" font-weight="normal" text-anchor="start" fill="#000" textLength="12.6" lengthAdjust="spacingAndGlyphs" stroke="#000" stroke-width="0.5">g</text>
<path d="M505.0,298.3 H517.1" stroke="#000" stroke-width="1.6" fill="none"/>
<text x="520.6" y="304.5" font-family="Liberation Serif" font-size="23.5" font-weight="normal" text-anchor="start" fill="#000" textLength="10.2" lengthAdjust="spacingAndGlyphs" stroke="#000" stroke-width="0.5">r</text>
<text x="531.9" y="304.8" font-family="Liberation Serif" font-size="25.8" font-weight="normal" text-anchor="start" fill="#000" textLength="7.6" lengthAdjust="spacingAndGlyphs" stroke="#000" stroke-width="0.5">)</text>
<text x="390.70000000000005" y="635.8000000000001" font-family="Liberation Serif" font-size="13" font-weight="bold" text-anchor="start" fill="#000" textLength="17.6" lengthAdjust="spacingAndGlyphs">0.1</text>
<text x="411.0" y="642.0" font-family="Liberation Serif" font-size="25.8" font-weight="normal" text-anchor="start" fill="#000" textLength="7.6" lengthAdjust="spacingAndGlyphs" stroke="#000" stroke-width="0.5">(</text>
<text x="419.3" y="641.7" font-family="Liberation Serif" font-size="23.5" font-weight="normal" text-anchor="start" fill="#000" textLength="12.6" lengthAdjust="spacingAndGlyphs" stroke="#000" stroke-width="0.5">g</text>
<path d="M434.7,635.5 H446.8" stroke="#000" stroke-width="1.6" fill="none"/>
<text x="450.3" y="641.7" font-family="Liberation Serif" font-size="23.5" font-weight="normal" text-anchor="start" fill="#000" textLength="10.2" lengthAdjust="spacingAndGlyphs" stroke="#000" stroke-width="0.5">r</text>
<text x="461.6" y="642.0" font-family="Liberation Serif" font-size="25.8" font-weight="normal" text-anchor="start" fill="#000" textLength="7.6" lengthAdjust="spacingAndGlyphs" stroke="#000" stroke-width="0.5">)</text>
<text x="470.3" y="647.6" font-family="Liberation Sans" font-size="11" font-weight="bold" text-anchor="start" fill="#000" textLength="19.3" lengthAdjust="spacingAndGlyphs" stroke="#000" stroke-width="0.25">sat</text>
<path d="M492.9,635.5 H504.8" stroke="#000" stroke-width="1.6" fill="none"/>
<text x="508.0" y="635.8000000000001" font-family="Liberation Serif" font-size="13" font-weight="bold" text-anchor="start" fill="#000" textLength="17.6" lengthAdjust="spacingAndGlyphs">0.1</text>
<text x="528.3" y="642.0" font-family="Liberation Serif" font-size="25.8" font-weight="normal" text-anchor="start" fill="#000" textLength="7.6" lengthAdjust="spacingAndGlyphs" stroke="#000" stroke-width="0.5">(</text>
<text x="536.6" y="641.7" font-family="Liberation Serif" font-size="23.5" font-weight="normal" text-anchor="start" fill="#000" textLength="12.6" lengthAdjust="spacingAndGlyphs" stroke="#000" stroke-width="0.5">g</text>
<path d="M552.0,635.5 H564.1" stroke="#000" stroke-width="1.6" fill="none"/>
<text x="567.6" y="641.7" font-family="Liberation Serif" font-size="23.5" font-weight="normal" text-anchor="start" fill="#000" textLength="10.2" lengthAdjust="spacingAndGlyphs" stroke="#000" stroke-width="0.5">r</text>
<text x="578.9" y="642.0" font-family="Liberation Serif" font-size="25.8" font-weight="normal" text-anchor="start" fill="#000" textLength="7.6" lengthAdjust="spacingAndGlyphs" stroke="#000" stroke-width="0.5">)</text>
<text x="587.7" y="647.6" font-family="Liberation Sans" font-size="11" font-weight="bold" text-anchor="start" fill="#000" textLength="21.8" lengthAdjust="spacingAndGlyphs" stroke="#000" stroke-width="0.25">cen</text>
<text x="796.0" y="304" font-family="Liberation Serif" font-size="22.6" font-weight="normal" text-anchor="start" fill="#000" textLength="12" lengthAdjust="spacingAndGlyphs" stroke="#000" stroke-width="0.5">C</text>
<path d="M811.4,295.2 H823.4" stroke="#000" stroke-width="1.5" fill="none"/>
<path d="M811.4,300.2 H823.4" stroke="#000" stroke-width="1.5" fill="none"/>
<text x="827.0" y="304" font-family="Liberation Serif" font-size="22.6" font-weight="normal" text-anchor="start" fill="#000" textLength="9.8" lengthAdjust="spacingAndGlyphs" stroke="#000" stroke-width="0.5">r</text>
<text x="837.3" y="310.3" font-family="Liberation Sans" font-size="12" font-weight="bold" text-anchor="start" fill="#000" textLength="16.4" lengthAdjust="spacingAndGlyphs" stroke="#000" stroke-width="0.25">90</text>
<path d="M855.7,309.6 L867.4,288.1" stroke="#000" stroke-width="1.8" fill="none"/>
<text x="869.3" y="304" font-family="Liberation Serif" font-size="22.6" font-weight="normal" text-anchor="start" fill="#000" textLength="9.8" lengthAdjust="spacingAndGlyphs" stroke="#000" stroke-width="0.5">r</text>
<text x="879.6" y="310.3" font-family="Liberation Sans" font-size="12" font-weight="bold" text-anchor="start" fill="#000" textLength="16.4" lengthAdjust="spacingAndGlyphs" stroke="#000" stroke-width="0.25">50</text>
<text x="801.4" y="639.4" font-family="Liberation Serif" font-size="22.6" font-weight="normal" text-anchor="start" fill="#000" textLength="12" lengthAdjust="spacingAndGlyphs" stroke="#000" stroke-width="0.5">C</text>
<text x="814.9" y="645" font-family="Liberation Sans" font-size="11" font-weight="bold" text-anchor="start" fill="#000" textLength="19.6" lengthAdjust="spacingAndGlyphs" stroke="#000" stroke-width="0.25">sat</text>
<path d="M837.9,632.3 H849.8" stroke="#000" stroke-width="1.6" fill="none"/>
<text x="853.1" y="639.4" font-family="Liberation Serif" font-size="22.6" font-weight="normal" text-anchor="start" fill="#000" textLength="12" lengthAdjust="spacingAndGlyphs" stroke="#000" stroke-width="0.5">C</text>
<text x="867.2" y="645" font-family="Liberation Sans" font-size="11" font-weight="bold" text-anchor="start" fill="#000" textLength="22" lengthAdjust="spacingAndGlyphs" stroke="#000" stroke-width="0.25">cen</text>
</svg>
</body></html>
